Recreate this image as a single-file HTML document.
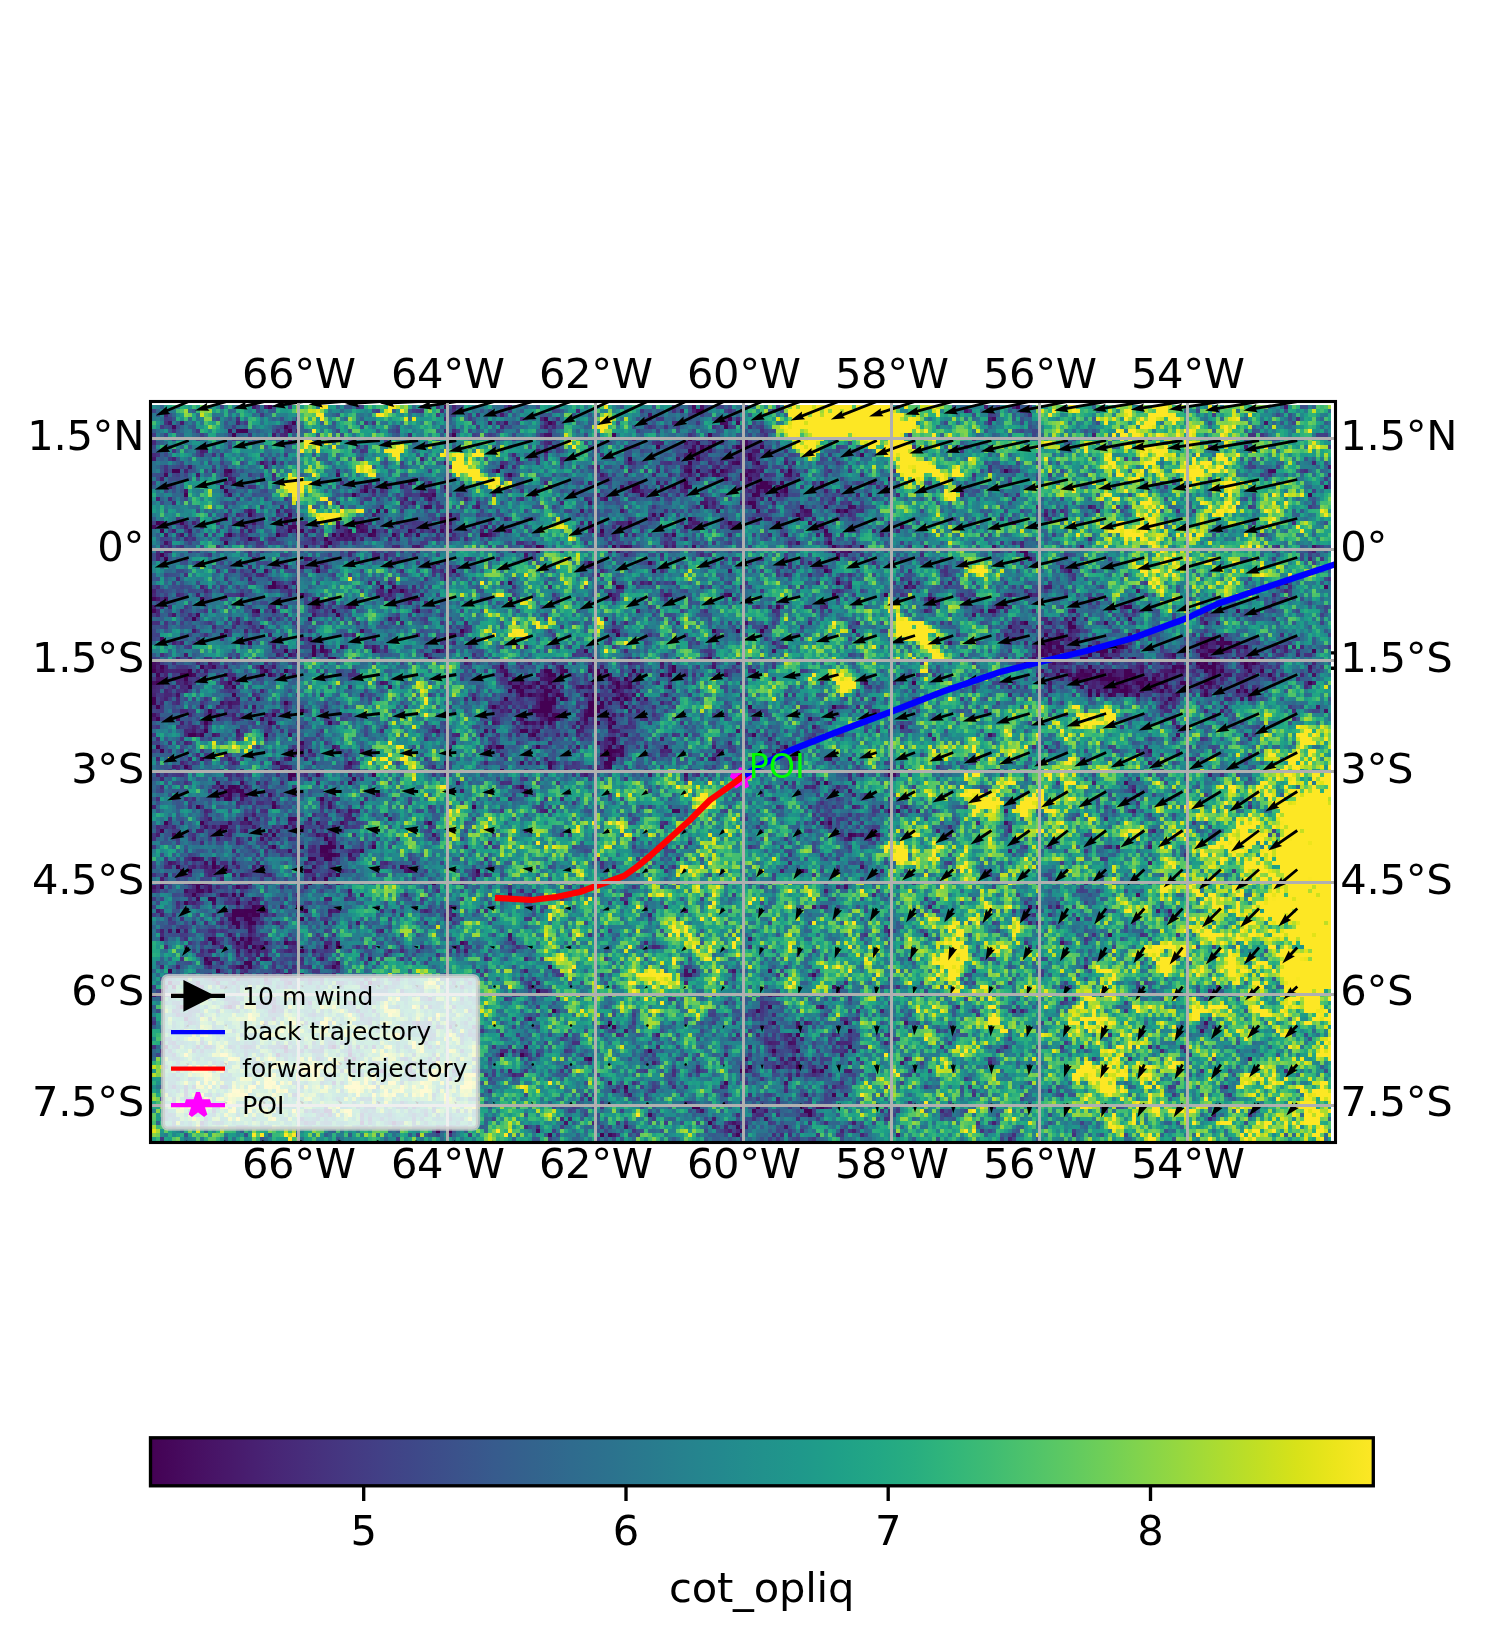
<!DOCTYPE html>
<html><head><meta charset="utf-8"><title>cot_opliq trajectory map</title>
<style>html,body{margin:0;padding:0;background:#fff}body{width:1500px;height:1650px;overflow:hidden}svg{display:block}text{font-family:"DejaVu Sans", "Liberation Sans", sans-serif;fill:#000}.sc{mix-blend-mode:screen}</style></head><body>
<svg width="1500" height="1650" viewBox="0 0 1500 1650">
<defs>
<filter id="fld" filterUnits="userSpaceOnUse" x="104" y="357" width="1278" height="835.5" color-interpolation-filters="sRGB">
<feColorMatrix in="SourceGraphic" type="matrix" values="1 0 0 0 0  1 0 0 0 0  1 0 0 0 0  0 0 0 0 1" result="cR"/>
<feGaussianBlur in="cR" stdDeviation="11" result="base0"/>
<feColorMatrix in="SourceGraphic" type="matrix" values="0 1 0 0 0  0 1 0 0 0  0 1 0 0 0  0 0 0 0 1" result="cG"/>
<feGaussianBlur in="cG" stdDeviation="1.7" result="fb"/>
<feColorMatrix in="SourceGraphic" type="matrix" values="0 0 1 0 0  0 0 1 0 0  0 0 1 0 0  0 0 0 0 1" result="cB"/>
<feGaussianBlur in="cB" stdDeviation="6" result="fd"/>
<feComposite in="base0" in2="fd" operator="arithmetic" k1="0" k2="1" k3="-0.2" k4="0" result="base"/>
<feTurbulence type="fractalNoise" baseFrequency="0.33" numOctaves="1" seed="7" result="n1"/>
<feTurbulence type="fractalNoise" baseFrequency="0.05" numOctaves="2" seed="21" result="n2"/>
<feColorMatrix in="n1" type="matrix" values="1.3 0 0 0 -0.15000000000000002  1.3 0 0 0 -0.15000000000000002  1.3 0 0 0 -0.15000000000000002  0 0 0 0 1" result="g1"/>
<feColorMatrix in="n2" type="matrix" values="0 1.0 0 0 0.0  0 1.0 0 0 0.0  0 1.0 0 0 0.0  0 0 0 0 1" result="g2"/>
<feComposite in="g1" in2="g2" operator="arithmetic" k1="0" k2="1" k3="1" k4="-0.5" result="nn"/>
<feComposite in="base" in2="nn" operator="arithmetic" k1="0.85" k2="0.575" k3="0.6" k4="-0.3" result="sum0"/>
<feDisplacementMap in="fb" in2="n2" scale="48" xChannelSelector="R" yChannelSelector="B" result="fbd"/>
<feComposite in="sum0" in2="fbd" operator="arithmetic" k1="0" k2="1" k3="0.6" k4="0" result="sum"/>
<feFlood x="105" y="358" width="1" height="1" flood-color="#000" result="fl"/>
<feComposite in="fl" in2="fl" operator="over" x="104" y="357" width="4" height="4" result="cell"/>
<feTile in="cell" result="tiles"/>
<feComposite in="sum" in2="tiles" operator="in" result="samp"/>
<feMorphology in="samp" operator="dilate" radius="1" result="b3"/>
<feOffset in="b3" dx="1" dy="0" result="bx"/>
<feMerge result="m1"><feMergeNode in="bx"/><feMergeNode in="b3"/></feMerge>
<feOffset in="m1" dx="0" dy="1" result="by"/>
<feMerge result="pix"><feMergeNode in="by"/><feMergeNode in="m1"/></feMerge>
<feComponentTransfer in="pix"><feFuncR type="table" tableValues="0.267 0.273 0.277 0.280 0.282 0.283 0.283 0.281 0.279 0.275 0.271 0.265 0.259 0.252 0.245 0.237 0.228 0.220 0.212 0.205 0.198 0.191 0.184 0.177 0.171 0.165 0.159 0.153 0.148 0.142 0.136 0.131 0.125 0.122 0.120 0.120 0.122 0.128 0.137 0.150 0.166 0.186 0.208 0.233 0.260 0.289 0.320 0.352 0.395 0.431 0.468 0.506 0.546 0.586 0.627 0.668 0.710 0.752 0.794 0.835 0.876 0.916 0.955 0.993"/><feFuncG type="table" tableValues="0.005 0.026 0.050 0.073 0.095 0.116 0.136 0.156 0.175 0.195 0.214 0.233 0.252 0.270 0.288 0.305 0.327 0.343 0.360 0.376 0.392 0.407 0.422 0.438 0.453 0.467 0.482 0.497 0.512 0.526 0.541 0.556 0.574 0.589 0.604 0.618 0.633 0.648 0.662 0.677 0.691 0.705 0.719 0.732 0.745 0.758 0.771 0.783 0.797 0.808 0.819 0.829 0.838 0.847 0.855 0.862 0.869 0.875 0.881 0.886 0.891 0.896 0.901 0.906"/><feFuncB type="table" tableValues="0.329 0.353 0.376 0.397 0.417 0.436 0.453 0.469 0.483 0.496 0.507 0.517 0.525 0.532 0.537 0.542 0.547 0.549 0.552 0.554 0.555 0.556 0.557 0.558 0.558 0.558 0.558 0.558 0.557 0.556 0.554 0.552 0.549 0.546 0.541 0.536 0.530 0.523 0.516 0.507 0.497 0.485 0.473 0.459 0.444 0.428 0.411 0.393 0.368 0.346 0.324 0.300 0.276 0.250 0.223 0.196 0.169 0.143 0.120 0.103 0.095 0.101 0.118 0.144"/></feComponentTransfer>
</filter>
<clipPath id="cr"><rect x="152" y="405" width="1179" height="736.5"/></clipPath>
<clipPath id="ca"><rect x="150.5" y="401.5" width="1185" height="741"/></clipPath>
<linearGradient id="vg" x1="0" x2="1" y1="0" y2="0"><stop offset="0.0000" stop-color="rgb(68,1,84)"/><stop offset="0.0312" stop-color="rgb(71,13,96)"/><stop offset="0.0625" stop-color="rgb(72,24,106)"/><stop offset="0.0938" stop-color="rgb(72,35,116)"/><stop offset="0.1250" stop-color="rgb(71,45,123)"/><stop offset="0.1562" stop-color="rgb(69,55,129)"/><stop offset="0.1875" stop-color="rgb(66,64,134)"/><stop offset="0.2188" stop-color="rgb(62,73,137)"/><stop offset="0.2500" stop-color="rgb(59,82,139)"/><stop offset="0.2812" stop-color="rgb(55,91,141)"/><stop offset="0.3125" stop-color="rgb(51,99,141)"/><stop offset="0.3438" stop-color="rgb(47,107,142)"/><stop offset="0.3750" stop-color="rgb(44,114,142)"/><stop offset="0.4062" stop-color="rgb(41,122,142)"/><stop offset="0.4375" stop-color="rgb(38,130,142)"/><stop offset="0.4688" stop-color="rgb(35,137,142)"/><stop offset="0.5000" stop-color="rgb(33,145,140)"/><stop offset="0.5312" stop-color="rgb(31,152,139)"/><stop offset="0.5625" stop-color="rgb(31,160,136)"/><stop offset="0.5938" stop-color="rgb(34,167,133)"/><stop offset="0.6250" stop-color="rgb(40,174,128)"/><stop offset="0.6562" stop-color="rgb(50,182,122)"/><stop offset="0.6875" stop-color="rgb(63,188,115)"/><stop offset="0.7188" stop-color="rgb(78,195,107)"/><stop offset="0.7500" stop-color="rgb(94,201,98)"/><stop offset="0.7812" stop-color="rgb(112,207,87)"/><stop offset="0.8125" stop-color="rgb(132,212,75)"/><stop offset="0.8438" stop-color="rgb(152,216,62)"/><stop offset="0.8750" stop-color="rgb(173,220,48)"/><stop offset="0.9062" stop-color="rgb(194,223,35)"/><stop offset="0.9375" stop-color="rgb(216,226,25)"/><stop offset="0.9688" stop-color="rgb(236,229,27)"/><stop offset="1.0000" stop-color="rgb(253,231,37)"/></linearGradient>
</defs>
<rect width="1500" height="1650" fill="#fff"/>
<g clip-path="url(#cr)"><g filter="url(#fld)">
<rect x="102.28" y="352.79" width="86.03" height="86.03" fill="rgb(113,0,0)"/>
<rect x="187.31" y="352.79" width="38.03" height="86.03" fill="rgb(113,0,0)"/>
<rect x="224.34" y="352.79" width="38.03" height="86.03" fill="rgb(113,0,0)"/>
<rect x="261.37" y="352.79" width="38.03" height="86.03" fill="rgb(113,0,0)"/>
<rect x="298.4" y="352.79" width="38.03" height="86.03" fill="rgb(147,0,0)"/>
<rect x="335.43" y="352.79" width="38.03" height="86.03" fill="rgb(113,0,0)"/>
<rect x="372.46" y="352.79" width="38.03" height="86.03" fill="rgb(147,0,0)"/>
<rect x="409.49" y="352.79" width="38.03" height="86.03" fill="rgb(113,0,0)"/>
<rect x="446.52" y="352.79" width="38.03" height="86.03" fill="rgb(113,0,0)"/>
<rect x="483.55" y="352.79" width="38.03" height="86.03" fill="rgb(80,0,0)"/>
<rect x="520.58" y="352.79" width="38.03" height="86.03" fill="rgb(80,0,0)"/>
<rect x="557.61" y="352.79" width="38.03" height="86.03" fill="rgb(113,0,0)"/>
<rect x="594.64" y="352.79" width="38.03" height="86.03" fill="rgb(147,0,0)"/>
<rect x="631.67" y="352.79" width="38.03" height="86.03" fill="rgb(80,0,0)"/>
<rect x="668.7" y="352.79" width="38.03" height="86.03" fill="rgb(80,0,0)"/>
<rect x="705.73" y="352.79" width="38.03" height="86.03" fill="rgb(80,0,0)"/>
<rect x="742.76" y="352.79" width="38.03" height="86.03" fill="rgb(113,0,0)"/>
<rect x="779.79" y="352.79" width="38.03" height="86.03" fill="rgb(233,0,0)"/>
<rect x="816.82" y="352.79" width="38.03" height="86.03" fill="rgb(233,0,0)"/>
<rect x="853.85" y="352.79" width="38.03" height="86.03" fill="rgb(255,0,0)"/>
<rect x="890.88" y="352.79" width="38.03" height="86.03" fill="rgb(180,0,0)"/>
<rect x="927.91" y="352.79" width="38.03" height="86.03" fill="rgb(147,0,0)"/>
<rect x="964.94" y="352.79" width="38.03" height="86.03" fill="rgb(113,0,0)"/>
<rect x="1001.97" y="352.79" width="38.03" height="86.03" fill="rgb(113,0,0)"/>
<rect x="1039" y="352.79" width="38.03" height="86.03" fill="rgb(163,0,0)"/>
<rect x="1076.03" y="352.79" width="38.03" height="86.03" fill="rgb(163,0,0)"/>
<rect x="1113.06" y="352.79" width="38.03" height="86.03" fill="rgb(196,0,0)"/>
<rect x="1150.09" y="352.79" width="38.03" height="86.03" fill="rgb(196,0,0)"/>
<rect x="1187.12" y="352.79" width="38.03" height="86.03" fill="rgb(163,0,0)"/>
<rect x="1224.15" y="352.79" width="38.03" height="86.03" fill="rgb(163,0,0)"/>
<rect x="1261.18" y="352.79" width="38.03" height="86.03" fill="rgb(130,0,0)"/>
<rect x="1298.21" y="352.79" width="86.03" height="86.03" fill="rgb(130,0,0)"/>
<rect x="102.28" y="437.82" width="86.03" height="38.03" fill="rgb(80,0,0)"/>
<rect x="187.31" y="437.82" width="38.03" height="38.03" fill="rgb(80,0,0)"/>
<rect x="224.34" y="437.82" width="38.03" height="38.03" fill="rgb(113,0,0)"/>
<rect x="261.37" y="437.82" width="38.03" height="38.03" fill="rgb(80,0,0)"/>
<rect x="298.4" y="437.82" width="38.03" height="38.03" fill="rgb(147,0,0)"/>
<rect x="335.43" y="437.82" width="38.03" height="38.03" fill="rgb(113,0,0)"/>
<rect x="372.46" y="437.82" width="38.03" height="38.03" fill="rgb(147,0,0)"/>
<rect x="409.49" y="437.82" width="38.03" height="38.03" fill="rgb(113,0,0)"/>
<rect x="446.52" y="437.82" width="38.03" height="38.03" fill="rgb(180,0,0)"/>
<rect x="483.55" y="437.82" width="38.03" height="38.03" fill="rgb(113,0,0)"/>
<rect x="520.58" y="437.82" width="38.03" height="38.03" fill="rgb(80,0,0)"/>
<rect x="557.61" y="437.82" width="38.03" height="38.03" fill="rgb(113,0,0)"/>
<rect x="594.64" y="437.82" width="38.03" height="38.03" fill="rgb(80,0,0)"/>
<rect x="631.67" y="437.82" width="38.03" height="38.03" fill="rgb(80,0,0)"/>
<rect x="668.7" y="437.82" width="38.03" height="38.03" fill="rgb(47,0,0)"/>
<rect x="705.73" y="437.82" width="38.03" height="38.03" fill="rgb(47,0,0)"/>
<rect x="742.76" y="437.82" width="38.03" height="38.03" fill="rgb(47,0,0)"/>
<rect x="779.79" y="437.82" width="38.03" height="38.03" fill="rgb(113,0,0)"/>
<rect x="816.82" y="437.82" width="38.03" height="38.03" fill="rgb(80,0,0)"/>
<rect x="853.85" y="437.82" width="38.03" height="38.03" fill="rgb(113,0,0)"/>
<rect x="890.88" y="437.82" width="38.03" height="38.03" fill="rgb(213,0,0)"/>
<rect x="927.91" y="437.82" width="38.03" height="38.03" fill="rgb(147,0,0)"/>
<rect x="964.94" y="437.82" width="38.03" height="38.03" fill="rgb(147,0,0)"/>
<rect x="1001.97" y="437.82" width="38.03" height="38.03" fill="rgb(147,0,0)"/>
<rect x="1039" y="437.82" width="38.03" height="38.03" fill="rgb(163,0,0)"/>
<rect x="1076.03" y="437.82" width="38.03" height="38.03" fill="rgb(163,0,0)"/>
<rect x="1113.06" y="437.82" width="38.03" height="38.03" fill="rgb(196,0,0)"/>
<rect x="1150.09" y="437.82" width="38.03" height="38.03" fill="rgb(196,0,0)"/>
<rect x="1187.12" y="437.82" width="38.03" height="38.03" fill="rgb(196,0,0)"/>
<rect x="1224.15" y="437.82" width="38.03" height="38.03" fill="rgb(163,0,0)"/>
<rect x="1261.18" y="437.82" width="38.03" height="38.03" fill="rgb(130,0,0)"/>
<rect x="1298.21" y="437.82" width="86.03" height="38.03" fill="rgb(130,0,0)"/>
<rect x="102.28" y="474.85" width="86.03" height="38.03" fill="rgb(80,0,0)"/>
<rect x="187.31" y="474.85" width="38.03" height="38.03" fill="rgb(113,0,0)"/>
<rect x="224.34" y="474.85" width="38.03" height="38.03" fill="rgb(80,0,0)"/>
<rect x="261.37" y="474.85" width="38.03" height="38.03" fill="rgb(147,0,0)"/>
<rect x="298.4" y="474.85" width="38.03" height="38.03" fill="rgb(147,0,0)"/>
<rect x="335.43" y="474.85" width="38.03" height="38.03" fill="rgb(80,0,0)"/>
<rect x="372.46" y="474.85" width="38.03" height="38.03" fill="rgb(80,0,0)"/>
<rect x="409.49" y="474.85" width="38.03" height="38.03" fill="rgb(80,0,0)"/>
<rect x="446.52" y="474.85" width="38.03" height="38.03" fill="rgb(113,0,0)"/>
<rect x="483.55" y="474.85" width="38.03" height="38.03" fill="rgb(80,0,0)"/>
<rect x="520.58" y="474.85" width="38.03" height="38.03" fill="rgb(113,0,0)"/>
<rect x="557.61" y="474.85" width="38.03" height="38.03" fill="rgb(80,0,0)"/>
<rect x="594.64" y="474.85" width="38.03" height="38.03" fill="rgb(80,0,0)"/>
<rect x="631.67" y="474.85" width="38.03" height="38.03" fill="rgb(80,0,0)"/>
<rect x="668.7" y="474.85" width="38.03" height="38.03" fill="rgb(80,0,0)"/>
<rect x="705.73" y="474.85" width="38.03" height="38.03" fill="rgb(80,0,0)"/>
<rect x="742.76" y="474.85" width="38.03" height="38.03" fill="rgb(47,0,0)"/>
<rect x="779.79" y="474.85" width="38.03" height="38.03" fill="rgb(80,0,0)"/>
<rect x="816.82" y="474.85" width="38.03" height="38.03" fill="rgb(80,0,0)"/>
<rect x="853.85" y="474.85" width="38.03" height="38.03" fill="rgb(80,0,0)"/>
<rect x="890.88" y="474.85" width="38.03" height="38.03" fill="rgb(147,0,0)"/>
<rect x="927.91" y="474.85" width="38.03" height="38.03" fill="rgb(147,0,0)"/>
<rect x="964.94" y="474.85" width="38.03" height="38.03" fill="rgb(113,0,0)"/>
<rect x="1001.97" y="474.85" width="38.03" height="38.03" fill="rgb(113,0,0)"/>
<rect x="1039" y="474.85" width="38.03" height="38.03" fill="rgb(130,0,0)"/>
<rect x="1076.03" y="474.85" width="38.03" height="38.03" fill="rgb(163,0,0)"/>
<rect x="1113.06" y="474.85" width="38.03" height="38.03" fill="rgb(196,0,0)"/>
<rect x="1150.09" y="474.85" width="38.03" height="38.03" fill="rgb(163,0,0)"/>
<rect x="1187.12" y="474.85" width="38.03" height="38.03" fill="rgb(196,0,0)"/>
<rect x="1224.15" y="474.85" width="38.03" height="38.03" fill="rgb(163,0,0)"/>
<rect x="1261.18" y="474.85" width="38.03" height="38.03" fill="rgb(163,0,0)"/>
<rect x="1298.21" y="474.85" width="86.03" height="38.03" fill="rgb(130,0,0)"/>
<rect x="102.28" y="511.88" width="86.03" height="38.03" fill="rgb(80,0,0)"/>
<rect x="187.31" y="511.88" width="38.03" height="38.03" fill="rgb(80,0,0)"/>
<rect x="224.34" y="511.88" width="38.03" height="38.03" fill="rgb(80,0,0)"/>
<rect x="261.37" y="511.88" width="38.03" height="38.03" fill="rgb(47,0,0)"/>
<rect x="298.4" y="511.88" width="38.03" height="38.03" fill="rgb(80,0,0)"/>
<rect x="335.43" y="511.88" width="38.03" height="38.03" fill="rgb(47,0,0)"/>
<rect x="372.46" y="511.88" width="38.03" height="38.03" fill="rgb(80,0,0)"/>
<rect x="409.49" y="511.88" width="38.03" height="38.03" fill="rgb(47,0,0)"/>
<rect x="446.52" y="511.88" width="38.03" height="38.03" fill="rgb(80,0,0)"/>
<rect x="483.55" y="511.88" width="38.03" height="38.03" fill="rgb(80,0,0)"/>
<rect x="520.58" y="511.88" width="38.03" height="38.03" fill="rgb(113,0,0)"/>
<rect x="557.61" y="511.88" width="38.03" height="38.03" fill="rgb(113,0,0)"/>
<rect x="594.64" y="511.88" width="38.03" height="38.03" fill="rgb(80,0,0)"/>
<rect x="631.67" y="511.88" width="38.03" height="38.03" fill="rgb(80,0,0)"/>
<rect x="668.7" y="511.88" width="38.03" height="38.03" fill="rgb(80,0,0)"/>
<rect x="705.73" y="511.88" width="38.03" height="38.03" fill="rgb(80,0,0)"/>
<rect x="742.76" y="511.88" width="38.03" height="38.03" fill="rgb(80,0,0)"/>
<rect x="779.79" y="511.88" width="38.03" height="38.03" fill="rgb(80,0,0)"/>
<rect x="816.82" y="511.88" width="38.03" height="38.03" fill="rgb(80,0,0)"/>
<rect x="853.85" y="511.88" width="38.03" height="38.03" fill="rgb(113,0,0)"/>
<rect x="890.88" y="511.88" width="38.03" height="38.03" fill="rgb(113,0,0)"/>
<rect x="927.91" y="511.88" width="38.03" height="38.03" fill="rgb(147,0,0)"/>
<rect x="964.94" y="511.88" width="38.03" height="38.03" fill="rgb(113,0,0)"/>
<rect x="1001.97" y="511.88" width="38.03" height="38.03" fill="rgb(113,0,0)"/>
<rect x="1039" y="511.88" width="38.03" height="38.03" fill="rgb(130,0,0)"/>
<rect x="1076.03" y="511.88" width="38.03" height="38.03" fill="rgb(163,0,0)"/>
<rect x="1113.06" y="511.88" width="38.03" height="38.03" fill="rgb(196,0,0)"/>
<rect x="1150.09" y="511.88" width="38.03" height="38.03" fill="rgb(163,0,0)"/>
<rect x="1187.12" y="511.88" width="38.03" height="38.03" fill="rgb(163,0,0)"/>
<rect x="1224.15" y="511.88" width="38.03" height="38.03" fill="rgb(163,0,0)"/>
<rect x="1261.18" y="511.88" width="38.03" height="38.03" fill="rgb(163,0,0)"/>
<rect x="1298.21" y="511.88" width="86.03" height="38.03" fill="rgb(130,0,0)"/>
<rect x="102.28" y="548.91" width="86.03" height="38.03" fill="rgb(80,0,0)"/>
<rect x="187.31" y="548.91" width="38.03" height="38.03" fill="rgb(113,0,0)"/>
<rect x="224.34" y="548.91" width="38.03" height="38.03" fill="rgb(80,0,0)"/>
<rect x="261.37" y="548.91" width="38.03" height="38.03" fill="rgb(80,0,0)"/>
<rect x="298.4" y="548.91" width="38.03" height="38.03" fill="rgb(80,0,0)"/>
<rect x="335.43" y="548.91" width="38.03" height="38.03" fill="rgb(113,0,0)"/>
<rect x="372.46" y="548.91" width="38.03" height="38.03" fill="rgb(80,0,0)"/>
<rect x="409.49" y="548.91" width="38.03" height="38.03" fill="rgb(80,0,0)"/>
<rect x="446.52" y="548.91" width="38.03" height="38.03" fill="rgb(113,0,0)"/>
<rect x="483.55" y="548.91" width="38.03" height="38.03" fill="rgb(113,0,0)"/>
<rect x="520.58" y="548.91" width="38.03" height="38.03" fill="rgb(147,0,0)"/>
<rect x="557.61" y="548.91" width="38.03" height="38.03" fill="rgb(147,0,0)"/>
<rect x="594.64" y="548.91" width="38.03" height="38.03" fill="rgb(80,0,0)"/>
<rect x="631.67" y="548.91" width="38.03" height="38.03" fill="rgb(113,0,0)"/>
<rect x="668.7" y="548.91" width="38.03" height="38.03" fill="rgb(113,0,0)"/>
<rect x="705.73" y="548.91" width="38.03" height="38.03" fill="rgb(113,0,0)"/>
<rect x="742.76" y="548.91" width="38.03" height="38.03" fill="rgb(113,0,0)"/>
<rect x="779.79" y="548.91" width="38.03" height="38.03" fill="rgb(113,0,0)"/>
<rect x="816.82" y="548.91" width="38.03" height="38.03" fill="rgb(80,0,0)"/>
<rect x="853.85" y="548.91" width="38.03" height="38.03" fill="rgb(113,0,0)"/>
<rect x="890.88" y="548.91" width="38.03" height="38.03" fill="rgb(80,0,0)"/>
<rect x="927.91" y="548.91" width="38.03" height="38.03" fill="rgb(113,0,0)"/>
<rect x="964.94" y="548.91" width="38.03" height="38.03" fill="rgb(147,0,0)"/>
<rect x="1001.97" y="548.91" width="38.03" height="38.03" fill="rgb(113,0,0)"/>
<rect x="1039" y="548.91" width="38.03" height="38.03" fill="rgb(97,0,0)"/>
<rect x="1076.03" y="548.91" width="38.03" height="38.03" fill="rgb(130,0,0)"/>
<rect x="1113.06" y="548.91" width="38.03" height="38.03" fill="rgb(163,0,0)"/>
<rect x="1150.09" y="548.91" width="38.03" height="38.03" fill="rgb(196,0,0)"/>
<rect x="1187.12" y="548.91" width="38.03" height="38.03" fill="rgb(163,0,0)"/>
<rect x="1224.15" y="548.91" width="38.03" height="38.03" fill="rgb(163,0,0)"/>
<rect x="1261.18" y="548.91" width="38.03" height="38.03" fill="rgb(130,0,0)"/>
<rect x="1298.21" y="548.91" width="86.03" height="38.03" fill="rgb(130,0,0)"/>
<rect x="102.28" y="585.94" width="86.03" height="38.03" fill="rgb(80,0,0)"/>
<rect x="187.31" y="585.94" width="38.03" height="38.03" fill="rgb(80,0,0)"/>
<rect x="224.34" y="585.94" width="38.03" height="38.03" fill="rgb(80,0,0)"/>
<rect x="261.37" y="585.94" width="38.03" height="38.03" fill="rgb(80,0,0)"/>
<rect x="298.4" y="585.94" width="38.03" height="38.03" fill="rgb(80,0,0)"/>
<rect x="335.43" y="585.94" width="38.03" height="38.03" fill="rgb(113,0,0)"/>
<rect x="372.46" y="585.94" width="38.03" height="38.03" fill="rgb(80,0,0)"/>
<rect x="409.49" y="585.94" width="38.03" height="38.03" fill="rgb(80,0,0)"/>
<rect x="446.52" y="585.94" width="38.03" height="38.03" fill="rgb(113,0,0)"/>
<rect x="483.55" y="585.94" width="38.03" height="38.03" fill="rgb(147,0,0)"/>
<rect x="520.58" y="585.94" width="38.03" height="38.03" fill="rgb(113,0,0)"/>
<rect x="557.61" y="585.94" width="38.03" height="38.03" fill="rgb(113,0,0)"/>
<rect x="594.64" y="585.94" width="38.03" height="38.03" fill="rgb(113,0,0)"/>
<rect x="631.67" y="585.94" width="38.03" height="38.03" fill="rgb(113,0,0)"/>
<rect x="668.7" y="585.94" width="38.03" height="38.03" fill="rgb(113,0,0)"/>
<rect x="705.73" y="585.94" width="38.03" height="38.03" fill="rgb(113,0,0)"/>
<rect x="742.76" y="585.94" width="38.03" height="38.03" fill="rgb(113,0,0)"/>
<rect x="779.79" y="585.94" width="38.03" height="38.03" fill="rgb(147,0,0)"/>
<rect x="816.82" y="585.94" width="38.03" height="38.03" fill="rgb(113,0,0)"/>
<rect x="853.85" y="585.94" width="38.03" height="38.03" fill="rgb(113,0,0)"/>
<rect x="890.88" y="585.94" width="38.03" height="38.03" fill="rgb(113,0,0)"/>
<rect x="927.91" y="585.94" width="38.03" height="38.03" fill="rgb(113,0,0)"/>
<rect x="964.94" y="585.94" width="38.03" height="38.03" fill="rgb(113,0,0)"/>
<rect x="1001.97" y="585.94" width="38.03" height="38.03" fill="rgb(80,0,0)"/>
<rect x="1039" y="585.94" width="38.03" height="38.03" fill="rgb(80,0,0)"/>
<rect x="1076.03" y="585.94" width="38.03" height="38.03" fill="rgb(80,0,0)"/>
<rect x="1113.06" y="585.94" width="38.03" height="38.03" fill="rgb(113,0,0)"/>
<rect x="1150.09" y="585.94" width="38.03" height="38.03" fill="rgb(147,0,0)"/>
<rect x="1187.12" y="585.94" width="38.03" height="38.03" fill="rgb(147,0,0)"/>
<rect x="1224.15" y="585.94" width="38.03" height="38.03" fill="rgb(113,0,0)"/>
<rect x="1261.18" y="585.94" width="38.03" height="38.03" fill="rgb(113,0,0)"/>
<rect x="1298.21" y="585.94" width="86.03" height="38.03" fill="rgb(113,0,0)"/>
<rect x="102.28" y="622.97" width="86.03" height="38.03" fill="rgb(80,0,0)"/>
<rect x="187.31" y="622.97" width="38.03" height="38.03" fill="rgb(80,0,0)"/>
<rect x="224.34" y="622.97" width="38.03" height="38.03" fill="rgb(113,0,0)"/>
<rect x="261.37" y="622.97" width="38.03" height="38.03" fill="rgb(80,0,0)"/>
<rect x="298.4" y="622.97" width="38.03" height="38.03" fill="rgb(80,0,0)"/>
<rect x="335.43" y="622.97" width="38.03" height="38.03" fill="rgb(113,0,0)"/>
<rect x="372.46" y="622.97" width="38.03" height="38.03" fill="rgb(113,0,0)"/>
<rect x="409.49" y="622.97" width="38.03" height="38.03" fill="rgb(80,0,0)"/>
<rect x="446.52" y="622.97" width="38.03" height="38.03" fill="rgb(113,0,0)"/>
<rect x="483.55" y="622.97" width="38.03" height="38.03" fill="rgb(147,0,0)"/>
<rect x="520.58" y="622.97" width="38.03" height="38.03" fill="rgb(147,0,0)"/>
<rect x="557.61" y="622.97" width="38.03" height="38.03" fill="rgb(113,0,0)"/>
<rect x="594.64" y="622.97" width="38.03" height="38.03" fill="rgb(113,0,0)"/>
<rect x="631.67" y="622.97" width="38.03" height="38.03" fill="rgb(113,0,0)"/>
<rect x="668.7" y="622.97" width="38.03" height="38.03" fill="rgb(113,0,0)"/>
<rect x="705.73" y="622.97" width="38.03" height="38.03" fill="rgb(113,0,0)"/>
<rect x="742.76" y="622.97" width="38.03" height="38.03" fill="rgb(113,0,0)"/>
<rect x="779.79" y="622.97" width="38.03" height="38.03" fill="rgb(113,0,0)"/>
<rect x="816.82" y="622.97" width="38.03" height="38.03" fill="rgb(147,0,0)"/>
<rect x="853.85" y="622.97" width="38.03" height="38.03" fill="rgb(147,0,0)"/>
<rect x="890.88" y="622.97" width="38.03" height="38.03" fill="rgb(180,0,0)"/>
<rect x="927.91" y="622.97" width="38.03" height="38.03" fill="rgb(147,0,0)"/>
<rect x="964.94" y="622.97" width="38.03" height="38.03" fill="rgb(113,0,0)"/>
<rect x="1001.97" y="622.97" width="38.03" height="38.03" fill="rgb(80,0,0)"/>
<rect x="1039" y="622.97" width="38.03" height="38.03" fill="rgb(47,0,0)"/>
<rect x="1076.03" y="622.97" width="38.03" height="38.03" fill="rgb(80,0,0)"/>
<rect x="1113.06" y="622.97" width="38.03" height="38.03" fill="rgb(80,0,0)"/>
<rect x="1150.09" y="622.97" width="38.03" height="38.03" fill="rgb(80,0,0)"/>
<rect x="1187.12" y="622.97" width="38.03" height="38.03" fill="rgb(47,0,0)"/>
<rect x="1224.15" y="622.97" width="38.03" height="38.03" fill="rgb(80,0,0)"/>
<rect x="1261.18" y="622.97" width="38.03" height="38.03" fill="rgb(80,0,0)"/>
<rect x="1298.21" y="622.97" width="86.03" height="38.03" fill="rgb(113,0,0)"/>
<rect x="102.28" y="660" width="86.03" height="38.03" fill="rgb(47,0,0)"/>
<rect x="187.31" y="660" width="38.03" height="38.03" fill="rgb(80,0,0)"/>
<rect x="224.34" y="660" width="38.03" height="38.03" fill="rgb(80,0,0)"/>
<rect x="261.37" y="660" width="38.03" height="38.03" fill="rgb(80,0,0)"/>
<rect x="298.4" y="660" width="38.03" height="38.03" fill="rgb(113,0,0)"/>
<rect x="335.43" y="660" width="38.03" height="38.03" fill="rgb(113,0,0)"/>
<rect x="372.46" y="660" width="38.03" height="38.03" fill="rgb(113,0,0)"/>
<rect x="409.49" y="660" width="38.03" height="38.03" fill="rgb(147,0,0)"/>
<rect x="446.52" y="660" width="38.03" height="38.03" fill="rgb(113,0,0)"/>
<rect x="483.55" y="660" width="38.03" height="38.03" fill="rgb(57,0,0)"/>
<rect x="520.58" y="660" width="38.03" height="38.03" fill="rgb(41,0,0)"/>
<rect x="557.61" y="660" width="38.03" height="38.03" fill="rgb(80,0,0)"/>
<rect x="594.64" y="660" width="38.03" height="38.03" fill="rgb(47,0,0)"/>
<rect x="631.67" y="660" width="38.03" height="38.03" fill="rgb(80,0,0)"/>
<rect x="668.7" y="660" width="38.03" height="38.03" fill="rgb(113,0,0)"/>
<rect x="705.73" y="660" width="38.03" height="38.03" fill="rgb(113,0,0)"/>
<rect x="742.76" y="660" width="38.03" height="38.03" fill="rgb(147,0,0)"/>
<rect x="779.79" y="660" width="38.03" height="38.03" fill="rgb(147,0,0)"/>
<rect x="816.82" y="660" width="38.03" height="38.03" fill="rgb(147,0,0)"/>
<rect x="853.85" y="660" width="38.03" height="38.03" fill="rgb(113,0,0)"/>
<rect x="890.88" y="660" width="38.03" height="38.03" fill="rgb(113,0,0)"/>
<rect x="927.91" y="660" width="38.03" height="38.03" fill="rgb(147,0,0)"/>
<rect x="964.94" y="660" width="38.03" height="38.03" fill="rgb(113,0,0)"/>
<rect x="1001.97" y="660" width="38.03" height="38.03" fill="rgb(113,0,0)"/>
<rect x="1039" y="660" width="38.03" height="38.03" fill="rgb(47,0,0)"/>
<rect x="1076.03" y="660" width="38.03" height="38.03" fill="rgb(31,0,0)"/>
<rect x="1113.06" y="660" width="38.03" height="38.03" fill="rgb(31,0,0)"/>
<rect x="1150.09" y="660" width="38.03" height="38.03" fill="rgb(31,0,0)"/>
<rect x="1187.12" y="660" width="38.03" height="38.03" fill="rgb(47,0,0)"/>
<rect x="1224.15" y="660" width="38.03" height="38.03" fill="rgb(47,0,0)"/>
<rect x="1261.18" y="660" width="38.03" height="38.03" fill="rgb(80,0,0)"/>
<rect x="1298.21" y="660" width="86.03" height="38.03" fill="rgb(113,0,0)"/>
<rect x="102.28" y="697.03" width="86.03" height="38.03" fill="rgb(47,0,0)"/>
<rect x="187.31" y="697.03" width="38.03" height="38.03" fill="rgb(80,0,0)"/>
<rect x="224.34" y="697.03" width="38.03" height="38.03" fill="rgb(47,0,0)"/>
<rect x="261.37" y="697.03" width="38.03" height="38.03" fill="rgb(80,0,0)"/>
<rect x="298.4" y="697.03" width="38.03" height="38.03" fill="rgb(80,0,0)"/>
<rect x="335.43" y="697.03" width="38.03" height="38.03" fill="rgb(113,0,0)"/>
<rect x="372.46" y="697.03" width="38.03" height="38.03" fill="rgb(147,0,0)"/>
<rect x="409.49" y="697.03" width="38.03" height="38.03" fill="rgb(113,0,0)"/>
<rect x="446.52" y="697.03" width="38.03" height="38.03" fill="rgb(113,0,0)"/>
<rect x="483.55" y="697.03" width="38.03" height="38.03" fill="rgb(57,0,0)"/>
<rect x="520.58" y="697.03" width="38.03" height="38.03" fill="rgb(41,0,0)"/>
<rect x="557.61" y="697.03" width="38.03" height="38.03" fill="rgb(47,0,0)"/>
<rect x="594.64" y="697.03" width="38.03" height="38.03" fill="rgb(47,0,0)"/>
<rect x="631.67" y="697.03" width="38.03" height="38.03" fill="rgb(80,0,0)"/>
<rect x="668.7" y="697.03" width="38.03" height="38.03" fill="rgb(113,0,0)"/>
<rect x="705.73" y="697.03" width="38.03" height="38.03" fill="rgb(113,0,0)"/>
<rect x="742.76" y="697.03" width="38.03" height="38.03" fill="rgb(113,0,0)"/>
<rect x="779.79" y="697.03" width="38.03" height="38.03" fill="rgb(113,0,0)"/>
<rect x="816.82" y="697.03" width="38.03" height="38.03" fill="rgb(113,0,0)"/>
<rect x="853.85" y="697.03" width="38.03" height="38.03" fill="rgb(113,0,0)"/>
<rect x="890.88" y="697.03" width="38.03" height="38.03" fill="rgb(113,0,0)"/>
<rect x="927.91" y="697.03" width="38.03" height="38.03" fill="rgb(147,0,0)"/>
<rect x="964.94" y="697.03" width="38.03" height="38.03" fill="rgb(147,0,0)"/>
<rect x="1001.97" y="697.03" width="38.03" height="38.03" fill="rgb(147,0,0)"/>
<rect x="1039" y="697.03" width="38.03" height="38.03" fill="rgb(147,0,0)"/>
<rect x="1076.03" y="697.03" width="38.03" height="38.03" fill="rgb(180,0,0)"/>
<rect x="1113.06" y="697.03" width="38.03" height="38.03" fill="rgb(113,0,0)"/>
<rect x="1150.09" y="697.03" width="38.03" height="38.03" fill="rgb(113,0,0)"/>
<rect x="1187.12" y="697.03" width="38.03" height="38.03" fill="rgb(113,0,0)"/>
<rect x="1224.15" y="697.03" width="38.03" height="38.03" fill="rgb(113,0,0)"/>
<rect x="1261.18" y="697.03" width="38.03" height="38.03" fill="rgb(147,0,0)"/>
<rect x="1298.21" y="697.03" width="86.03" height="38.03" fill="rgb(147,0,0)"/>
<rect x="102.28" y="734.06" width="86.03" height="38.03" fill="rgb(80,0,0)"/>
<rect x="187.31" y="734.06" width="38.03" height="38.03" fill="rgb(80,0,0)"/>
<rect x="224.34" y="734.06" width="38.03" height="38.03" fill="rgb(113,0,0)"/>
<rect x="261.37" y="734.06" width="38.03" height="38.03" fill="rgb(80,0,0)"/>
<rect x="298.4" y="734.06" width="38.03" height="38.03" fill="rgb(80,0,0)"/>
<rect x="335.43" y="734.06" width="38.03" height="38.03" fill="rgb(113,0,0)"/>
<rect x="372.46" y="734.06" width="38.03" height="38.03" fill="rgb(147,0,0)"/>
<rect x="409.49" y="734.06" width="38.03" height="38.03" fill="rgb(113,0,0)"/>
<rect x="446.52" y="734.06" width="38.03" height="38.03" fill="rgb(113,0,0)"/>
<rect x="483.55" y="734.06" width="38.03" height="38.03" fill="rgb(80,0,0)"/>
<rect x="520.58" y="734.06" width="38.03" height="38.03" fill="rgb(80,0,0)"/>
<rect x="557.61" y="734.06" width="38.03" height="38.03" fill="rgb(80,0,0)"/>
<rect x="594.64" y="734.06" width="38.03" height="38.03" fill="rgb(47,0,0)"/>
<rect x="631.67" y="734.06" width="38.03" height="38.03" fill="rgb(80,0,0)"/>
<rect x="668.7" y="734.06" width="38.03" height="38.03" fill="rgb(113,0,0)"/>
<rect x="705.73" y="734.06" width="38.03" height="38.03" fill="rgb(80,0,0)"/>
<rect x="742.76" y="734.06" width="38.03" height="38.03" fill="rgb(80,0,0)"/>
<rect x="779.79" y="734.06" width="38.03" height="38.03" fill="rgb(80,0,0)"/>
<rect x="816.82" y="734.06" width="38.03" height="38.03" fill="rgb(113,0,0)"/>
<rect x="853.85" y="734.06" width="38.03" height="38.03" fill="rgb(147,0,0)"/>
<rect x="890.88" y="734.06" width="38.03" height="38.03" fill="rgb(147,0,0)"/>
<rect x="927.91" y="734.06" width="38.03" height="38.03" fill="rgb(147,0,0)"/>
<rect x="964.94" y="734.06" width="38.03" height="38.03" fill="rgb(147,0,0)"/>
<rect x="1001.97" y="734.06" width="38.03" height="38.03" fill="rgb(147,0,0)"/>
<rect x="1039" y="734.06" width="38.03" height="38.03" fill="rgb(147,0,0)"/>
<rect x="1076.03" y="734.06" width="38.03" height="38.03" fill="rgb(147,0,0)"/>
<rect x="1113.06" y="734.06" width="38.03" height="38.03" fill="rgb(147,0,0)"/>
<rect x="1150.09" y="734.06" width="38.03" height="38.03" fill="rgb(113,0,0)"/>
<rect x="1187.12" y="734.06" width="38.03" height="38.03" fill="rgb(113,0,0)"/>
<rect x="1224.15" y="734.06" width="38.03" height="38.03" fill="rgb(147,0,0)"/>
<rect x="1261.18" y="734.06" width="38.03" height="38.03" fill="rgb(180,0,0)"/>
<rect x="1298.21" y="734.06" width="86.03" height="38.03" fill="rgb(180,0,0)"/>
<rect x="102.28" y="771.09" width="86.03" height="38.03" fill="rgb(80,0,0)"/>
<rect x="187.31" y="771.09" width="38.03" height="38.03" fill="rgb(80,0,0)"/>
<rect x="224.34" y="771.09" width="38.03" height="38.03" fill="rgb(47,0,0)"/>
<rect x="261.37" y="771.09" width="38.03" height="38.03" fill="rgb(80,0,0)"/>
<rect x="298.4" y="771.09" width="38.03" height="38.03" fill="rgb(80,0,0)"/>
<rect x="335.43" y="771.09" width="38.03" height="38.03" fill="rgb(90,0,0)"/>
<rect x="372.46" y="771.09" width="38.03" height="38.03" fill="rgb(123,0,0)"/>
<rect x="409.49" y="771.09" width="38.03" height="38.03" fill="rgb(157,0,0)"/>
<rect x="446.52" y="771.09" width="38.03" height="38.03" fill="rgb(123,0,0)"/>
<rect x="483.55" y="771.09" width="38.03" height="38.03" fill="rgb(80,0,0)"/>
<rect x="520.58" y="771.09" width="38.03" height="38.03" fill="rgb(113,0,0)"/>
<rect x="557.61" y="771.09" width="38.03" height="38.03" fill="rgb(113,0,0)"/>
<rect x="594.64" y="771.09" width="38.03" height="38.03" fill="rgb(147,0,0)"/>
<rect x="631.67" y="771.09" width="38.03" height="38.03" fill="rgb(147,0,0)"/>
<rect x="668.7" y="771.09" width="38.03" height="38.03" fill="rgb(147,0,0)"/>
<rect x="705.73" y="771.09" width="38.03" height="38.03" fill="rgb(147,0,0)"/>
<rect x="742.76" y="771.09" width="38.03" height="38.03" fill="rgb(113,0,0)"/>
<rect x="779.79" y="771.09" width="38.03" height="38.03" fill="rgb(113,0,0)"/>
<rect x="816.82" y="771.09" width="38.03" height="38.03" fill="rgb(80,0,0)"/>
<rect x="853.85" y="771.09" width="38.03" height="38.03" fill="rgb(113,0,0)"/>
<rect x="890.88" y="771.09" width="38.03" height="38.03" fill="rgb(147,0,0)"/>
<rect x="927.91" y="771.09" width="38.03" height="38.03" fill="rgb(147,0,0)"/>
<rect x="964.94" y="771.09" width="38.03" height="38.03" fill="rgb(180,0,0)"/>
<rect x="1001.97" y="771.09" width="38.03" height="38.03" fill="rgb(180,0,0)"/>
<rect x="1039" y="771.09" width="38.03" height="38.03" fill="rgb(180,0,0)"/>
<rect x="1076.03" y="771.09" width="38.03" height="38.03" fill="rgb(147,0,0)"/>
<rect x="1113.06" y="771.09" width="38.03" height="38.03" fill="rgb(113,0,0)"/>
<rect x="1150.09" y="771.09" width="38.03" height="38.03" fill="rgb(147,0,0)"/>
<rect x="1187.12" y="771.09" width="38.03" height="38.03" fill="rgb(147,0,0)"/>
<rect x="1224.15" y="771.09" width="38.03" height="38.03" fill="rgb(147,0,0)"/>
<rect x="1261.18" y="771.09" width="38.03" height="38.03" fill="rgb(213,0,0)"/>
<rect x="1298.21" y="771.09" width="86.03" height="38.03" fill="rgb(246,0,0)"/>
<rect x="102.28" y="808.12" width="86.03" height="38.03" fill="rgb(80,0,0)"/>
<rect x="187.31" y="808.12" width="38.03" height="38.03" fill="rgb(80,0,0)"/>
<rect x="224.34" y="808.12" width="38.03" height="38.03" fill="rgb(47,0,0)"/>
<rect x="261.37" y="808.12" width="38.03" height="38.03" fill="rgb(80,0,0)"/>
<rect x="298.4" y="808.12" width="38.03" height="38.03" fill="rgb(47,0,0)"/>
<rect x="335.43" y="808.12" width="38.03" height="38.03" fill="rgb(90,0,0)"/>
<rect x="372.46" y="808.12" width="38.03" height="38.03" fill="rgb(123,0,0)"/>
<rect x="409.49" y="808.12" width="38.03" height="38.03" fill="rgb(123,0,0)"/>
<rect x="446.52" y="808.12" width="38.03" height="38.03" fill="rgb(157,0,0)"/>
<rect x="483.55" y="808.12" width="38.03" height="38.03" fill="rgb(147,0,0)"/>
<rect x="520.58" y="808.12" width="38.03" height="38.03" fill="rgb(147,0,0)"/>
<rect x="557.61" y="808.12" width="38.03" height="38.03" fill="rgb(147,0,0)"/>
<rect x="594.64" y="808.12" width="38.03" height="38.03" fill="rgb(147,0,0)"/>
<rect x="631.67" y="808.12" width="38.03" height="38.03" fill="rgb(113,0,0)"/>
<rect x="668.7" y="808.12" width="38.03" height="38.03" fill="rgb(147,0,0)"/>
<rect x="705.73" y="808.12" width="38.03" height="38.03" fill="rgb(147,0,0)"/>
<rect x="742.76" y="808.12" width="38.03" height="38.03" fill="rgb(113,0,0)"/>
<rect x="779.79" y="808.12" width="38.03" height="38.03" fill="rgb(113,0,0)"/>
<rect x="816.82" y="808.12" width="38.03" height="38.03" fill="rgb(80,0,0)"/>
<rect x="853.85" y="808.12" width="38.03" height="38.03" fill="rgb(80,0,0)"/>
<rect x="890.88" y="808.12" width="38.03" height="38.03" fill="rgb(147,0,0)"/>
<rect x="927.91" y="808.12" width="38.03" height="38.03" fill="rgb(147,0,0)"/>
<rect x="964.94" y="808.12" width="38.03" height="38.03" fill="rgb(147,0,0)"/>
<rect x="1001.97" y="808.12" width="38.03" height="38.03" fill="rgb(147,0,0)"/>
<rect x="1039" y="808.12" width="38.03" height="38.03" fill="rgb(147,0,0)"/>
<rect x="1076.03" y="808.12" width="38.03" height="38.03" fill="rgb(147,0,0)"/>
<rect x="1113.06" y="808.12" width="38.03" height="38.03" fill="rgb(147,0,0)"/>
<rect x="1150.09" y="808.12" width="38.03" height="38.03" fill="rgb(147,0,0)"/>
<rect x="1187.12" y="808.12" width="38.03" height="38.03" fill="rgb(180,0,0)"/>
<rect x="1224.15" y="808.12" width="38.03" height="38.03" fill="rgb(213,0,0)"/>
<rect x="1261.18" y="808.12" width="38.03" height="38.03" fill="rgb(213,0,0)"/>
<rect x="1298.21" y="808.12" width="86.03" height="38.03" fill="rgb(246,0,0)"/>
<rect x="102.28" y="845.15" width="86.03" height="38.03" fill="rgb(80,0,0)"/>
<rect x="187.31" y="845.15" width="38.03" height="38.03" fill="rgb(47,0,0)"/>
<rect x="224.34" y="845.15" width="38.03" height="38.03" fill="rgb(80,0,0)"/>
<rect x="261.37" y="845.15" width="38.03" height="38.03" fill="rgb(80,0,0)"/>
<rect x="298.4" y="845.15" width="38.03" height="38.03" fill="rgb(47,0,0)"/>
<rect x="335.43" y="845.15" width="38.03" height="38.03" fill="rgb(90,0,0)"/>
<rect x="372.46" y="845.15" width="38.03" height="38.03" fill="rgb(123,0,0)"/>
<rect x="409.49" y="845.15" width="38.03" height="38.03" fill="rgb(90,0,0)"/>
<rect x="446.52" y="845.15" width="38.03" height="38.03" fill="rgb(123,0,0)"/>
<rect x="483.55" y="845.15" width="38.03" height="38.03" fill="rgb(147,0,0)"/>
<rect x="520.58" y="845.15" width="38.03" height="38.03" fill="rgb(147,0,0)"/>
<rect x="557.61" y="845.15" width="38.03" height="38.03" fill="rgb(147,0,0)"/>
<rect x="594.64" y="845.15" width="38.03" height="38.03" fill="rgb(113,0,0)"/>
<rect x="631.67" y="845.15" width="38.03" height="38.03" fill="rgb(113,0,0)"/>
<rect x="668.7" y="845.15" width="38.03" height="38.03" fill="rgb(147,0,0)"/>
<rect x="705.73" y="845.15" width="38.03" height="38.03" fill="rgb(180,0,0)"/>
<rect x="742.76" y="845.15" width="38.03" height="38.03" fill="rgb(147,0,0)"/>
<rect x="779.79" y="845.15" width="38.03" height="38.03" fill="rgb(113,0,0)"/>
<rect x="816.82" y="845.15" width="38.03" height="38.03" fill="rgb(113,0,0)"/>
<rect x="853.85" y="845.15" width="38.03" height="38.03" fill="rgb(113,0,0)"/>
<rect x="890.88" y="845.15" width="38.03" height="38.03" fill="rgb(180,0,0)"/>
<rect x="927.91" y="845.15" width="38.03" height="38.03" fill="rgb(180,0,0)"/>
<rect x="964.94" y="845.15" width="38.03" height="38.03" fill="rgb(147,0,0)"/>
<rect x="1001.97" y="845.15" width="38.03" height="38.03" fill="rgb(147,0,0)"/>
<rect x="1039" y="845.15" width="38.03" height="38.03" fill="rgb(147,0,0)"/>
<rect x="1076.03" y="845.15" width="38.03" height="38.03" fill="rgb(147,0,0)"/>
<rect x="1113.06" y="845.15" width="38.03" height="38.03" fill="rgb(147,0,0)"/>
<rect x="1150.09" y="845.15" width="38.03" height="38.03" fill="rgb(180,0,0)"/>
<rect x="1187.12" y="845.15" width="38.03" height="38.03" fill="rgb(180,0,0)"/>
<rect x="1224.15" y="845.15" width="38.03" height="38.03" fill="rgb(213,0,0)"/>
<rect x="1261.18" y="845.15" width="38.03" height="38.03" fill="rgb(246,0,0)"/>
<rect x="1298.21" y="845.15" width="86.03" height="38.03" fill="rgb(246,0,0)"/>
<rect x="102.28" y="882.18" width="86.03" height="38.03" fill="rgb(80,0,0)"/>
<rect x="187.31" y="882.18" width="38.03" height="38.03" fill="rgb(80,0,0)"/>
<rect x="224.34" y="882.18" width="38.03" height="38.03" fill="rgb(37,0,0)"/>
<rect x="261.37" y="882.18" width="38.03" height="38.03" fill="rgb(80,0,0)"/>
<rect x="298.4" y="882.18" width="38.03" height="38.03" fill="rgb(80,0,0)"/>
<rect x="335.43" y="882.18" width="38.03" height="38.03" fill="rgb(113,0,0)"/>
<rect x="372.46" y="882.18" width="38.03" height="38.03" fill="rgb(113,0,0)"/>
<rect x="409.49" y="882.18" width="38.03" height="38.03" fill="rgb(113,0,0)"/>
<rect x="446.52" y="882.18" width="38.03" height="38.03" fill="rgb(113,0,0)"/>
<rect x="483.55" y="882.18" width="38.03" height="38.03" fill="rgb(113,0,0)"/>
<rect x="520.58" y="882.18" width="38.03" height="38.03" fill="rgb(147,0,0)"/>
<rect x="557.61" y="882.18" width="38.03" height="38.03" fill="rgb(147,0,0)"/>
<rect x="594.64" y="882.18" width="38.03" height="38.03" fill="rgb(113,0,0)"/>
<rect x="631.67" y="882.18" width="38.03" height="38.03" fill="rgb(147,0,0)"/>
<rect x="668.7" y="882.18" width="38.03" height="38.03" fill="rgb(147,0,0)"/>
<rect x="705.73" y="882.18" width="38.03" height="38.03" fill="rgb(147,0,0)"/>
<rect x="742.76" y="882.18" width="38.03" height="38.03" fill="rgb(147,0,0)"/>
<rect x="779.79" y="882.18" width="38.03" height="38.03" fill="rgb(147,0,0)"/>
<rect x="816.82" y="882.18" width="38.03" height="38.03" fill="rgb(147,0,0)"/>
<rect x="853.85" y="882.18" width="38.03" height="38.03" fill="rgb(147,0,0)"/>
<rect x="890.88" y="882.18" width="38.03" height="38.03" fill="rgb(147,0,0)"/>
<rect x="927.91" y="882.18" width="38.03" height="38.03" fill="rgb(147,0,0)"/>
<rect x="964.94" y="882.18" width="38.03" height="38.03" fill="rgb(147,0,0)"/>
<rect x="1001.97" y="882.18" width="38.03" height="38.03" fill="rgb(113,0,0)"/>
<rect x="1039" y="882.18" width="38.03" height="38.03" fill="rgb(113,0,0)"/>
<rect x="1076.03" y="882.18" width="38.03" height="38.03" fill="rgb(113,0,0)"/>
<rect x="1113.06" y="882.18" width="38.03" height="38.03" fill="rgb(147,0,0)"/>
<rect x="1150.09" y="882.18" width="38.03" height="38.03" fill="rgb(147,0,0)"/>
<rect x="1187.12" y="882.18" width="38.03" height="38.03" fill="rgb(213,0,0)"/>
<rect x="1224.15" y="882.18" width="38.03" height="38.03" fill="rgb(213,0,0)"/>
<rect x="1261.18" y="882.18" width="38.03" height="38.03" fill="rgb(246,0,0)"/>
<rect x="1298.21" y="882.18" width="86.03" height="38.03" fill="rgb(255,0,0)"/>
<rect x="102.28" y="919.21" width="86.03" height="38.03" fill="rgb(80,0,0)"/>
<rect x="187.31" y="919.21" width="38.03" height="38.03" fill="rgb(80,0,0)"/>
<rect x="224.34" y="919.21" width="38.03" height="38.03" fill="rgb(37,0,0)"/>
<rect x="261.37" y="919.21" width="38.03" height="38.03" fill="rgb(80,0,0)"/>
<rect x="298.4" y="919.21" width="38.03" height="38.03" fill="rgb(80,0,0)"/>
<rect x="335.43" y="919.21" width="38.03" height="38.03" fill="rgb(113,0,0)"/>
<rect x="372.46" y="919.21" width="38.03" height="38.03" fill="rgb(113,0,0)"/>
<rect x="409.49" y="919.21" width="38.03" height="38.03" fill="rgb(113,0,0)"/>
<rect x="446.52" y="919.21" width="38.03" height="38.03" fill="rgb(113,0,0)"/>
<rect x="483.55" y="919.21" width="38.03" height="38.03" fill="rgb(113,0,0)"/>
<rect x="520.58" y="919.21" width="38.03" height="38.03" fill="rgb(147,0,0)"/>
<rect x="557.61" y="919.21" width="38.03" height="38.03" fill="rgb(147,0,0)"/>
<rect x="594.64" y="919.21" width="38.03" height="38.03" fill="rgb(147,0,0)"/>
<rect x="631.67" y="919.21" width="38.03" height="38.03" fill="rgb(147,0,0)"/>
<rect x="668.7" y="919.21" width="38.03" height="38.03" fill="rgb(180,0,0)"/>
<rect x="705.73" y="919.21" width="38.03" height="38.03" fill="rgb(180,0,0)"/>
<rect x="742.76" y="919.21" width="38.03" height="38.03" fill="rgb(147,0,0)"/>
<rect x="779.79" y="919.21" width="38.03" height="38.03" fill="rgb(147,0,0)"/>
<rect x="816.82" y="919.21" width="38.03" height="38.03" fill="rgb(147,0,0)"/>
<rect x="853.85" y="919.21" width="38.03" height="38.03" fill="rgb(147,0,0)"/>
<rect x="890.88" y="919.21" width="38.03" height="38.03" fill="rgb(147,0,0)"/>
<rect x="927.91" y="919.21" width="38.03" height="38.03" fill="rgb(180,0,0)"/>
<rect x="964.94" y="919.21" width="38.03" height="38.03" fill="rgb(180,0,0)"/>
<rect x="1001.97" y="919.21" width="38.03" height="38.03" fill="rgb(147,0,0)"/>
<rect x="1039" y="919.21" width="38.03" height="38.03" fill="rgb(113,0,0)"/>
<rect x="1076.03" y="919.21" width="38.03" height="38.03" fill="rgb(113,0,0)"/>
<rect x="1113.06" y="919.21" width="38.03" height="38.03" fill="rgb(147,0,0)"/>
<rect x="1150.09" y="919.21" width="38.03" height="38.03" fill="rgb(180,0,0)"/>
<rect x="1187.12" y="919.21" width="38.03" height="38.03" fill="rgb(213,0,0)"/>
<rect x="1224.15" y="919.21" width="38.03" height="38.03" fill="rgb(213,0,0)"/>
<rect x="1261.18" y="919.21" width="38.03" height="38.03" fill="rgb(213,0,0)"/>
<rect x="1298.21" y="919.21" width="86.03" height="38.03" fill="rgb(255,0,0)"/>
<rect x="102.28" y="956.24" width="86.03" height="38.03" fill="rgb(113,0,0)"/>
<rect x="187.31" y="956.24" width="38.03" height="38.03" fill="rgb(80,0,0)"/>
<rect x="224.34" y="956.24" width="38.03" height="38.03" fill="rgb(80,0,0)"/>
<rect x="261.37" y="956.24" width="38.03" height="38.03" fill="rgb(80,0,0)"/>
<rect x="298.4" y="956.24" width="38.03" height="38.03" fill="rgb(80,0,0)"/>
<rect x="335.43" y="956.24" width="38.03" height="38.03" fill="rgb(113,0,0)"/>
<rect x="372.46" y="956.24" width="38.03" height="38.03" fill="rgb(113,0,0)"/>
<rect x="409.49" y="956.24" width="38.03" height="38.03" fill="rgb(147,0,0)"/>
<rect x="446.52" y="956.24" width="38.03" height="38.03" fill="rgb(113,0,0)"/>
<rect x="483.55" y="956.24" width="38.03" height="38.03" fill="rgb(147,0,0)"/>
<rect x="520.58" y="956.24" width="38.03" height="38.03" fill="rgb(80,0,0)"/>
<rect x="557.61" y="956.24" width="38.03" height="38.03" fill="rgb(147,0,0)"/>
<rect x="594.64" y="956.24" width="38.03" height="38.03" fill="rgb(147,0,0)"/>
<rect x="631.67" y="956.24" width="38.03" height="38.03" fill="rgb(180,0,0)"/>
<rect x="668.7" y="956.24" width="38.03" height="38.03" fill="rgb(147,0,0)"/>
<rect x="705.73" y="956.24" width="38.03" height="38.03" fill="rgb(147,0,0)"/>
<rect x="742.76" y="956.24" width="38.03" height="38.03" fill="rgb(147,0,0)"/>
<rect x="779.79" y="956.24" width="38.03" height="38.03" fill="rgb(147,0,0)"/>
<rect x="816.82" y="956.24" width="38.03" height="38.03" fill="rgb(147,0,0)"/>
<rect x="853.85" y="956.24" width="38.03" height="38.03" fill="rgb(147,0,0)"/>
<rect x="890.88" y="956.24" width="38.03" height="38.03" fill="rgb(147,0,0)"/>
<rect x="927.91" y="956.24" width="38.03" height="38.03" fill="rgb(180,0,0)"/>
<rect x="964.94" y="956.24" width="38.03" height="38.03" fill="rgb(147,0,0)"/>
<rect x="1001.97" y="956.24" width="38.03" height="38.03" fill="rgb(147,0,0)"/>
<rect x="1039" y="956.24" width="38.03" height="38.03" fill="rgb(147,0,0)"/>
<rect x="1076.03" y="956.24" width="38.03" height="38.03" fill="rgb(180,0,0)"/>
<rect x="1113.06" y="956.24" width="38.03" height="38.03" fill="rgb(147,0,0)"/>
<rect x="1150.09" y="956.24" width="38.03" height="38.03" fill="rgb(147,0,0)"/>
<rect x="1187.12" y="956.24" width="38.03" height="38.03" fill="rgb(180,0,0)"/>
<rect x="1224.15" y="956.24" width="38.03" height="38.03" fill="rgb(213,0,0)"/>
<rect x="1261.18" y="956.24" width="38.03" height="38.03" fill="rgb(213,0,0)"/>
<rect x="1298.21" y="956.24" width="86.03" height="38.03" fill="rgb(246,0,0)"/>
<rect x="102.28" y="993.27" width="86.03" height="38.03" fill="rgb(113,0,0)"/>
<rect x="187.31" y="993.27" width="38.03" height="38.03" fill="rgb(160,0,0)"/>
<rect x="224.34" y="993.27" width="38.03" height="38.03" fill="rgb(160,0,0)"/>
<rect x="261.37" y="993.27" width="38.03" height="38.03" fill="rgb(160,0,0)"/>
<rect x="298.4" y="993.27" width="38.03" height="38.03" fill="rgb(160,0,0)"/>
<rect x="335.43" y="993.27" width="38.03" height="38.03" fill="rgb(160,0,0)"/>
<rect x="372.46" y="993.27" width="38.03" height="38.03" fill="rgb(160,0,0)"/>
<rect x="409.49" y="993.27" width="38.03" height="38.03" fill="rgb(160,0,0)"/>
<rect x="446.52" y="993.27" width="38.03" height="38.03" fill="rgb(160,0,0)"/>
<rect x="483.55" y="993.27" width="38.03" height="38.03" fill="rgb(113,0,0)"/>
<rect x="520.58" y="993.27" width="38.03" height="38.03" fill="rgb(113,0,0)"/>
<rect x="557.61" y="993.27" width="38.03" height="38.03" fill="rgb(147,0,0)"/>
<rect x="594.64" y="993.27" width="38.03" height="38.03" fill="rgb(147,0,0)"/>
<rect x="631.67" y="993.27" width="38.03" height="38.03" fill="rgb(147,0,0)"/>
<rect x="668.7" y="993.27" width="38.03" height="38.03" fill="rgb(147,0,0)"/>
<rect x="705.73" y="993.27" width="38.03" height="38.03" fill="rgb(113,0,0)"/>
<rect x="742.76" y="993.27" width="38.03" height="38.03" fill="rgb(80,0,0)"/>
<rect x="779.79" y="993.27" width="38.03" height="38.03" fill="rgb(113,0,0)"/>
<rect x="816.82" y="993.27" width="38.03" height="38.03" fill="rgb(113,0,0)"/>
<rect x="853.85" y="993.27" width="38.03" height="38.03" fill="rgb(113,0,0)"/>
<rect x="890.88" y="993.27" width="38.03" height="38.03" fill="rgb(147,0,0)"/>
<rect x="927.91" y="993.27" width="38.03" height="38.03" fill="rgb(147,0,0)"/>
<rect x="964.94" y="993.27" width="38.03" height="38.03" fill="rgb(180,0,0)"/>
<rect x="1001.97" y="993.27" width="38.03" height="38.03" fill="rgb(147,0,0)"/>
<rect x="1039" y="993.27" width="38.03" height="38.03" fill="rgb(147,0,0)"/>
<rect x="1076.03" y="993.27" width="38.03" height="38.03" fill="rgb(180,0,0)"/>
<rect x="1113.06" y="993.27" width="38.03" height="38.03" fill="rgb(180,0,0)"/>
<rect x="1150.09" y="993.27" width="38.03" height="38.03" fill="rgb(147,0,0)"/>
<rect x="1187.12" y="993.27" width="38.03" height="38.03" fill="rgb(147,0,0)"/>
<rect x="1224.15" y="993.27" width="38.03" height="38.03" fill="rgb(180,0,0)"/>
<rect x="1261.18" y="993.27" width="38.03" height="38.03" fill="rgb(180,0,0)"/>
<rect x="1298.21" y="993.27" width="86.03" height="38.03" fill="rgb(213,0,0)"/>
<rect x="102.28" y="1030.3" width="86.03" height="38.03" fill="rgb(147,0,0)"/>
<rect x="187.31" y="1030.3" width="38.03" height="38.03" fill="rgb(160,0,0)"/>
<rect x="224.34" y="1030.3" width="38.03" height="38.03" fill="rgb(160,0,0)"/>
<rect x="261.37" y="1030.3" width="38.03" height="38.03" fill="rgb(160,0,0)"/>
<rect x="298.4" y="1030.3" width="38.03" height="38.03" fill="rgb(160,0,0)"/>
<rect x="335.43" y="1030.3" width="38.03" height="38.03" fill="rgb(160,0,0)"/>
<rect x="372.46" y="1030.3" width="38.03" height="38.03" fill="rgb(160,0,0)"/>
<rect x="409.49" y="1030.3" width="38.03" height="38.03" fill="rgb(160,0,0)"/>
<rect x="446.52" y="1030.3" width="38.03" height="38.03" fill="rgb(160,0,0)"/>
<rect x="483.55" y="1030.3" width="38.03" height="38.03" fill="rgb(113,0,0)"/>
<rect x="520.58" y="1030.3" width="38.03" height="38.03" fill="rgb(113,0,0)"/>
<rect x="557.61" y="1030.3" width="38.03" height="38.03" fill="rgb(113,0,0)"/>
<rect x="594.64" y="1030.3" width="38.03" height="38.03" fill="rgb(113,0,0)"/>
<rect x="631.67" y="1030.3" width="38.03" height="38.03" fill="rgb(113,0,0)"/>
<rect x="668.7" y="1030.3" width="38.03" height="38.03" fill="rgb(113,0,0)"/>
<rect x="705.73" y="1030.3" width="38.03" height="38.03" fill="rgb(113,0,0)"/>
<rect x="742.76" y="1030.3" width="38.03" height="38.03" fill="rgb(80,0,0)"/>
<rect x="779.79" y="1030.3" width="38.03" height="38.03" fill="rgb(80,0,0)"/>
<rect x="816.82" y="1030.3" width="38.03" height="38.03" fill="rgb(80,0,0)"/>
<rect x="853.85" y="1030.3" width="38.03" height="38.03" fill="rgb(113,0,0)"/>
<rect x="890.88" y="1030.3" width="38.03" height="38.03" fill="rgb(147,0,0)"/>
<rect x="927.91" y="1030.3" width="38.03" height="38.03" fill="rgb(147,0,0)"/>
<rect x="964.94" y="1030.3" width="38.03" height="38.03" fill="rgb(147,0,0)"/>
<rect x="1001.97" y="1030.3" width="38.03" height="38.03" fill="rgb(113,0,0)"/>
<rect x="1039" y="1030.3" width="38.03" height="38.03" fill="rgb(147,0,0)"/>
<rect x="1076.03" y="1030.3" width="38.03" height="38.03" fill="rgb(180,0,0)"/>
<rect x="1113.06" y="1030.3" width="38.03" height="38.03" fill="rgb(180,0,0)"/>
<rect x="1150.09" y="1030.3" width="38.03" height="38.03" fill="rgb(180,0,0)"/>
<rect x="1187.12" y="1030.3" width="38.03" height="38.03" fill="rgb(147,0,0)"/>
<rect x="1224.15" y="1030.3" width="38.03" height="38.03" fill="rgb(147,0,0)"/>
<rect x="1261.18" y="1030.3" width="38.03" height="38.03" fill="rgb(147,0,0)"/>
<rect x="1298.21" y="1030.3" width="86.03" height="38.03" fill="rgb(213,0,0)"/>
<rect x="102.28" y="1067.33" width="86.03" height="38.03" fill="rgb(147,0,0)"/>
<rect x="187.31" y="1067.33" width="38.03" height="38.03" fill="rgb(193,0,0)"/>
<rect x="224.34" y="1067.33" width="38.03" height="38.03" fill="rgb(193,0,0)"/>
<rect x="261.37" y="1067.33" width="38.03" height="38.03" fill="rgb(193,0,0)"/>
<rect x="298.4" y="1067.33" width="38.03" height="38.03" fill="rgb(193,0,0)"/>
<rect x="335.43" y="1067.33" width="38.03" height="38.03" fill="rgb(193,0,0)"/>
<rect x="372.46" y="1067.33" width="38.03" height="38.03" fill="rgb(193,0,0)"/>
<rect x="409.49" y="1067.33" width="38.03" height="38.03" fill="rgb(193,0,0)"/>
<rect x="446.52" y="1067.33" width="38.03" height="38.03" fill="rgb(193,0,0)"/>
<rect x="483.55" y="1067.33" width="38.03" height="38.03" fill="rgb(113,0,0)"/>
<rect x="520.58" y="1067.33" width="38.03" height="38.03" fill="rgb(147,0,0)"/>
<rect x="557.61" y="1067.33" width="38.03" height="38.03" fill="rgb(113,0,0)"/>
<rect x="594.64" y="1067.33" width="38.03" height="38.03" fill="rgb(113,0,0)"/>
<rect x="631.67" y="1067.33" width="38.03" height="38.03" fill="rgb(113,0,0)"/>
<rect x="668.7" y="1067.33" width="38.03" height="38.03" fill="rgb(113,0,0)"/>
<rect x="705.73" y="1067.33" width="38.03" height="38.03" fill="rgb(113,0,0)"/>
<rect x="742.76" y="1067.33" width="38.03" height="38.03" fill="rgb(80,0,0)"/>
<rect x="779.79" y="1067.33" width="38.03" height="38.03" fill="rgb(80,0,0)"/>
<rect x="816.82" y="1067.33" width="38.03" height="38.03" fill="rgb(80,0,0)"/>
<rect x="853.85" y="1067.33" width="38.03" height="38.03" fill="rgb(147,0,0)"/>
<rect x="890.88" y="1067.33" width="38.03" height="38.03" fill="rgb(147,0,0)"/>
<rect x="927.91" y="1067.33" width="38.03" height="38.03" fill="rgb(147,0,0)"/>
<rect x="964.94" y="1067.33" width="38.03" height="38.03" fill="rgb(147,0,0)"/>
<rect x="1001.97" y="1067.33" width="38.03" height="38.03" fill="rgb(147,0,0)"/>
<rect x="1039" y="1067.33" width="38.03" height="38.03" fill="rgb(147,0,0)"/>
<rect x="1076.03" y="1067.33" width="38.03" height="38.03" fill="rgb(213,0,0)"/>
<rect x="1113.06" y="1067.33" width="38.03" height="38.03" fill="rgb(213,0,0)"/>
<rect x="1150.09" y="1067.33" width="38.03" height="38.03" fill="rgb(180,0,0)"/>
<rect x="1187.12" y="1067.33" width="38.03" height="38.03" fill="rgb(147,0,0)"/>
<rect x="1224.15" y="1067.33" width="38.03" height="38.03" fill="rgb(147,0,0)"/>
<rect x="1261.18" y="1067.33" width="38.03" height="38.03" fill="rgb(180,0,0)"/>
<rect x="1298.21" y="1067.33" width="86.03" height="38.03" fill="rgb(213,0,0)"/>
<rect x="102.28" y="1104.36" width="86.03" height="86.03" fill="rgb(147,0,0)"/>
<rect x="187.31" y="1104.36" width="38.03" height="86.03" fill="rgb(160,0,0)"/>
<rect x="224.34" y="1104.36" width="38.03" height="86.03" fill="rgb(160,0,0)"/>
<rect x="261.37" y="1104.36" width="38.03" height="86.03" fill="rgb(160,0,0)"/>
<rect x="298.4" y="1104.36" width="38.03" height="86.03" fill="rgb(127,0,0)"/>
<rect x="335.43" y="1104.36" width="38.03" height="86.03" fill="rgb(127,0,0)"/>
<rect x="372.46" y="1104.36" width="38.03" height="86.03" fill="rgb(127,0,0)"/>
<rect x="409.49" y="1104.36" width="38.03" height="86.03" fill="rgb(127,0,0)"/>
<rect x="446.52" y="1104.36" width="38.03" height="86.03" fill="rgb(127,0,0)"/>
<rect x="483.55" y="1104.36" width="38.03" height="86.03" fill="rgb(147,0,0)"/>
<rect x="520.58" y="1104.36" width="38.03" height="86.03" fill="rgb(147,0,0)"/>
<rect x="557.61" y="1104.36" width="38.03" height="86.03" fill="rgb(113,0,0)"/>
<rect x="594.64" y="1104.36" width="38.03" height="86.03" fill="rgb(113,0,0)"/>
<rect x="631.67" y="1104.36" width="38.03" height="86.03" fill="rgb(147,0,0)"/>
<rect x="668.7" y="1104.36" width="38.03" height="86.03" fill="rgb(113,0,0)"/>
<rect x="705.73" y="1104.36" width="38.03" height="86.03" fill="rgb(80,0,0)"/>
<rect x="742.76" y="1104.36" width="38.03" height="86.03" fill="rgb(80,0,0)"/>
<rect x="779.79" y="1104.36" width="38.03" height="86.03" fill="rgb(80,0,0)"/>
<rect x="816.82" y="1104.36" width="38.03" height="86.03" fill="rgb(113,0,0)"/>
<rect x="853.85" y="1104.36" width="38.03" height="86.03" fill="rgb(113,0,0)"/>
<rect x="890.88" y="1104.36" width="38.03" height="86.03" fill="rgb(147,0,0)"/>
<rect x="927.91" y="1104.36" width="38.03" height="86.03" fill="rgb(147,0,0)"/>
<rect x="964.94" y="1104.36" width="38.03" height="86.03" fill="rgb(147,0,0)"/>
<rect x="1001.97" y="1104.36" width="38.03" height="86.03" fill="rgb(147,0,0)"/>
<rect x="1039" y="1104.36" width="38.03" height="86.03" fill="rgb(147,0,0)"/>
<rect x="1076.03" y="1104.36" width="38.03" height="86.03" fill="rgb(147,0,0)"/>
<rect x="1113.06" y="1104.36" width="38.03" height="86.03" fill="rgb(180,0,0)"/>
<rect x="1150.09" y="1104.36" width="38.03" height="86.03" fill="rgb(180,0,0)"/>
<rect x="1187.12" y="1104.36" width="38.03" height="86.03" fill="rgb(147,0,0)"/>
<rect x="1224.15" y="1104.36" width="38.03" height="86.03" fill="rgb(180,0,0)"/>
<rect x="1261.18" y="1104.36" width="38.03" height="86.03" fill="rgb(180,0,0)"/>
<rect x="1298.21" y="1104.36" width="86.03" height="86.03" fill="rgb(213,0,0)"/>
<g class="sc">
<ellipse cx="328" cy="416" rx="7" ry="11" fill="rgb(0,255,0)"/>
<ellipse cx="311" cy="449" rx="9" ry="8" fill="rgb(0,255,0)"/>
<polyline points="367,411 405,413" fill="none" stroke="rgb(0,230,0)" stroke-width="7" stroke-linecap="round" stroke-linejoin="round"/>
<ellipse cx="294" cy="487" rx="13" ry="14" fill="rgb(0,255,0)"/>
<ellipse cx="393" cy="453" rx="10" ry="8" fill="rgb(0,255,0)"/>
<ellipse cx="365" cy="469" rx="9" ry="8" fill="rgb(0,230,0)"/>
<ellipse cx="324" cy="499" rx="5" ry="6" fill="rgb(0,204,0)"/>
<polyline points="318,519 350,512" fill="none" stroke="rgb(0,255,0)" stroke-width="11" stroke-linecap="round" stroke-linejoin="round"/>
<polyline points="456,461 476,470 498,486" fill="none" stroke="rgb(0,255,0)" stroke-width="16" stroke-linecap="round" stroke-linejoin="round"/>
<polyline points="190,483 194,515" fill="none" stroke="rgb(0,140,0)" stroke-width="8" stroke-linecap="round" stroke-linejoin="round"/>
<polyline points="545,495 560,530" fill="none" stroke="rgb(0,128,0)" stroke-width="9" stroke-linecap="round" stroke-linejoin="round"/>
<ellipse cx="604" cy="426" rx="7" ry="8" fill="rgb(0,230,0)"/>
<ellipse cx="579" cy="447" rx="9" ry="9" fill="rgb(0,153,0)"/>
<polyline points="481,580 503,593 521,605 527,619" fill="none" stroke="rgb(0,242,0)" stroke-width="5" stroke-linecap="round" stroke-linejoin="round"/>
<ellipse cx="513" cy="627" rx="6" ry="6" fill="rgb(0,204,0)"/>
<ellipse cx="544" cy="625" rx="7" ry="6" fill="rgb(0,178,0)"/>
<polyline points="345,582 365,583" fill="none" stroke="rgb(0,178,0)" stroke-width="4" stroke-linecap="round" stroke-linejoin="round"/>
<polyline points="622,640 622,656" fill="none" stroke="rgb(0,178,0)" stroke-width="4" stroke-linecap="round" stroke-linejoin="round"/>
<polyline points="606,573 607,589" fill="none" stroke="rgb(0,178,0)" stroke-width="4" stroke-linecap="round" stroke-linejoin="round"/>
<ellipse cx="590" cy="578" rx="3" ry="6" fill="rgb(0,178,0)"/>
<ellipse cx="462" cy="725" rx="13" ry="8" fill="rgb(0,115,0)"/>
<ellipse cx="394" cy="750" rx="6" ry="6" fill="rgb(0,178,0)"/>
<ellipse cx="565" cy="566" rx="18" ry="13" fill="rgb(0,115,0)"/>
<polyline points="600,618 603,648" fill="none" stroke="rgb(0,217,0)" stroke-width="5" stroke-linecap="round" stroke-linejoin="round"/>
<ellipse cx="430" cy="692" rx="10" ry="17" fill="rgb(0,128,0)"/>
<polyline points="160,764 178,752 197,743 222,750 241,749 257,739 284,738" fill="none" stroke="rgb(0,242,0)" stroke-width="4.5" stroke-linecap="round" stroke-linejoin="round"/>
<polyline points="380,584 401,584" fill="none" stroke="rgb(0,242,0)" stroke-width="4" stroke-linecap="round" stroke-linejoin="round"/>
<ellipse cx="383" cy="760" rx="11" ry="10" fill="rgb(0,128,0)"/>
<ellipse cx="812" cy="424" rx="26" ry="16" fill="rgb(0,255,0)"/>
<ellipse cx="868" cy="421" rx="36" ry="18" fill="rgb(0,255,0)"/>
<ellipse cx="815" cy="444" rx="16" ry="8" fill="rgb(0,204,0)"/>
<polyline points="893,440 912,460 945,482" fill="none" stroke="rgb(0,230,0)" stroke-width="22" stroke-linecap="round" stroke-linejoin="round"/>
<ellipse cx="1148" cy="426" rx="28" ry="11" fill="rgb(0,89,0)"/>
<ellipse cx="1209" cy="467" rx="18" ry="13" fill="rgb(0,115,0)"/>
<ellipse cx="1148" cy="532" rx="13" ry="12" fill="rgb(0,140,0)"/>
<ellipse cx="1158" cy="570" rx="18" ry="16" fill="rgb(0,102,0)"/>
<polyline points="897,617 915,636 935,655" fill="none" stroke="rgb(0,255,0)" stroke-width="17" stroke-linecap="round" stroke-linejoin="round"/>
<ellipse cx="970" cy="578" rx="5" ry="9" fill="rgb(0,204,0)"/>
<ellipse cx="842" cy="678" rx="10" ry="14" fill="rgb(0,204,0)"/>
<polyline points="1073,714 1105,714" fill="none" stroke="rgb(0,230,0)" stroke-width="10" stroke-linecap="round" stroke-linejoin="round"/>
<ellipse cx="1306" cy="748" rx="12" ry="20" fill="rgb(0,128,0)"/>
<polyline points="1322,800 1318,880 1318,985" fill="none" stroke="rgb(0,255,0)" stroke-width="32" stroke-linecap="round" stroke-linejoin="round"/>
<ellipse cx="1300" cy="850" rx="22" ry="60" fill="rgb(0,178,0)"/>
<ellipse cx="1296" cy="826" rx="18" ry="24" fill="rgb(0,204,0)"/>
<ellipse cx="1284" cy="905" rx="16" ry="20" fill="rgb(0,178,0)"/>
<ellipse cx="1300" cy="962" rx="14" ry="22" fill="rgb(0,178,0)"/>
<ellipse cx="1237" cy="840" rx="20" ry="10" fill="rgb(0,204,0)"/>
<polyline points="933,984 960,940 996,890" fill="none" stroke="rgb(0,204,0)" stroke-width="5" stroke-linecap="round" stroke-linejoin="round"/>
<ellipse cx="948" cy="960" rx="26" ry="12" fill="rgb(0,178,0)" transform="rotate(-20 948 960)"/>
<ellipse cx="1094" cy="1012" rx="27" ry="11" fill="rgb(0,153,0)"/>
<ellipse cx="1098" cy="1083" rx="19" ry="15" fill="rgb(0,166,0)"/>
<ellipse cx="990" cy="1022" rx="9" ry="17" fill="rgb(0,178,0)"/>
<ellipse cx="982" cy="797" rx="17" ry="9" fill="rgb(0,204,0)"/>
<ellipse cx="905" cy="856" rx="11" ry="17" fill="rgb(0,204,0)"/>
<ellipse cx="1160" cy="957" rx="10" ry="11" fill="rgb(0,204,0)"/>
<ellipse cx="1040" cy="800" rx="14" ry="8" fill="rgb(0,153,0)"/>
<ellipse cx="1120" cy="905" rx="16" ry="9" fill="rgb(0,153,0)"/>
<ellipse cx="1010" cy="930" rx="12" ry="8" fill="rgb(0,153,0)"/>
<ellipse cx="1200" cy="1010" rx="14" ry="9" fill="rgb(0,153,0)"/>
<ellipse cx="1250" cy="1075" rx="14" ry="10" fill="rgb(0,153,0)"/>
<ellipse cx="880" cy="1075" rx="6" ry="17" fill="rgb(0,178,0)"/>
<ellipse cx="1310" cy="1110" rx="12" ry="10" fill="rgb(0,178,0)"/>
<ellipse cx="700" cy="800" rx="12" ry="8" fill="rgb(0,153,0)"/>
<ellipse cx="620" cy="830" rx="13" ry="9" fill="rgb(0,153,0)"/>
<ellipse cx="690" cy="870" rx="10" ry="9" fill="rgb(0,153,0)"/>
<ellipse cx="560" cy="960" rx="16" ry="9" fill="rgb(0,178,0)"/>
<ellipse cx="650" cy="975" rx="12" ry="8" fill="rgb(0,153,0)"/>
<ellipse cx="660" cy="985" rx="20" ry="10" fill="rgb(0,128,0)"/>
<ellipse cx="800" cy="1010" rx="10" ry="8" fill="rgb(0,153,0)"/>
</g>
<g class="sc">
<ellipse cx="537" cy="699" rx="24" ry="18" fill="rgb(0,0,153)"/>
<ellipse cx="610" cy="687" rx="14" ry="16" fill="rgb(0,0,204)"/>
<ellipse cx="335" cy="536" rx="35" ry="9" fill="rgb(0,0,153)"/>
<ellipse cx="1122" cy="679" rx="58" ry="13" fill="rgb(0,0,178)"/>
<ellipse cx="1057" cy="648" rx="18" ry="12" fill="rgb(0,0,230)"/>
<ellipse cx="1213" cy="650" rx="23" ry="11" fill="rgb(0,0,204)"/>
<ellipse cx="755" cy="477" rx="12" ry="24" fill="rgb(0,0,178)"/>
<ellipse cx="249" cy="927" rx="17" ry="19" fill="rgb(0,0,153)"/>
<ellipse cx="170" cy="679" rx="20" ry="9" fill="rgb(0,0,178)"/>
<ellipse cx="185" cy="900" rx="20" ry="15" fill="rgb(0,0,128)"/>
<ellipse cx="790" cy="1030" rx="30" ry="35" fill="rgb(0,0,102)"/>
</g>
</g></g>
<g clip-path="url(#ca)"><path fill="#000" d="M188.18,400.21 166.78,409.29 166.97,406.17 155.73,415.5 170.25,413.9 167.87,411.87 189.27,402.79ZM226.57,400.15 206.7,405.74 207.29,402.67 194.95,410.5 209.57,410.75 207.46,408.44 227.33,402.85ZM264.88,400.13 245.19,404.44 245.96,401.41 233.18,408.5 247.75,409.61 245.79,407.18 265.48,402.87ZM303.19,400.12 283.64,403.17 284.59,400.19 271.4,406.5 285.88,408.49 284.07,405.94 303.62,402.88ZM341.5,400.11 321.05,401.96 322.19,399.05 308.63,404.5 322.95,407.42 321.3,404.75 341.76,402.89ZM379.76,400.1 357.32,401.71 358.52,398.81 344.85,404 359.12,407.19 357.52,404.5 379.95,402.9ZM418.01,400.1 392.59,401.44 393.84,398.57 380.08,403.5 394.28,406.96 392.74,404.24 418.15,402.9ZM456.09,400.12 429.55,404.2 430.51,401.22 417.31,407.5 431.78,409.52 429.97,406.97 456.52,402.88ZM494.14,400.16 462.22,409.59 462.77,406.51 450.53,414.5 465.15,414.56 463.01,412.27 494.93,402.84ZM532.36,400.16 494.42,411.54 494.96,408.45 482.76,416.5 497.37,416.5 495.23,414.22 533.16,402.84ZM570.49,400.19 533.28,414.24 533.6,411.13 521.98,420 536.56,418.98 534.27,416.86 571.48,402.81ZM608.63,400.23 572.08,416.98 572.19,413.85 561.21,423.5 575.69,421.48 573.25,419.52 609.79,402.77ZM646.84,400.23 608.24,418.37 608.32,415.24 597.44,425 611.89,422.85 609.43,420.91 648.03,402.77ZM685.05,400.24 644.41,419.78 644.46,416.65 633.66,426.5 648.1,424.22 645.62,422.3 686.27,402.76ZM723.27,400.24 683.58,419.7 683.61,416.57 672.89,426.5 687.31,424.11 684.82,422.21 724.5,402.76ZM761.55,400.22 722.61,417.18 722.77,414.06 711.61,423.5 726.13,421.76 723.72,419.75 762.67,402.78ZM799.84,400.19 761.62,414.72 761.93,411.6 750.34,420.5 764.92,419.45 762.61,417.33 800.84,402.81ZM838.05,400.2 801.76,414.56 802.04,411.44 790.56,420.5 805.13,419.25 802.8,417.16 839.08,402.8ZM876.28,400.2 842.01,413.6 842.3,410.49 830.79,419.5 845.36,418.31 843.03,416.21 877.3,402.8ZM914.58,400.17 880.56,411.26 881.02,408.17 869.02,416.5 883.63,416.15 881.43,413.92 915.45,402.83ZM952.88,400.15 917.04,409.85 917.66,406.79 905.24,414.5 919.85,414.89 917.77,412.56 953.61,402.85ZM991.13,400.14 955.35,409.09 956.03,406.03 943.47,413.5 958.07,414.18 956.03,411.8 991.81,402.86ZM1029.39,400.13 992.68,408.37 993.43,405.34 980.69,412.5 995.27,413.53 993.29,411.11 1030,402.87ZM1067.65,400.13 1029.01,407.7 1029.85,404.68 1016.92,411.5 1031.47,412.93 1029.55,410.45 1068.19,402.87ZM1105.91,400.12 1066.32,406.97 1067.22,403.97 1054.15,410.5 1068.66,412.25 1066.8,409.73 1106.38,402.88ZM1144.14,400.12 1104.57,406.71 1105.49,403.72 1092.37,410.17 1106.87,412.01 1105.03,409.48 1144.6,402.88ZM1182.38,400.12 1142.82,406.46 1143.76,403.47 1130.6,409.83 1145.08,411.77 1143.26,409.22 1182.82,402.88ZM1220.61,400.12 1181.06,406.2 1182.02,403.22 1168.82,409.5 1183.3,411.52 1181.49,408.97 1221.04,402.88ZM1258.82,400.12 1217.25,407.05 1218.17,404.06 1205.05,410.5 1219.55,412.34 1217.71,409.81 1259.28,402.88ZM1297.04,400.12 1255.47,407.05 1256.39,404.06 1243.27,410.5 1257.77,412.34 1255.93,409.81 1297.5,402.88ZM188.25,439.18 167.09,446.88 167.45,443.77 155.73,452.5 170.32,451.66 168.05,449.51 189.2,441.82ZM226.58,439.15 205.74,444.83 206.35,441.76 193.95,449.5 208.56,449.87 206.48,447.54 227.32,441.85ZM264.89,439.13 244.21,443.52 245,440.49 232.18,447.5 246.74,448.7 244.79,446.25 265.47,441.87ZM303.19,439.12 283.64,442.17 284.59,439.19 271.4,445.5 285.88,447.49 284.07,444.94 303.62,441.88ZM341.5,439.11 321.05,440.96 322.19,438.05 308.63,443.5 322.95,446.42 321.3,443.75 341.76,441.89ZM379.74,439.1 356.3,441.06 357.46,438.15 343.85,443.5 358.16,446.52 356.53,443.85 379.97,441.9ZM417.91,439.11 390.41,442.55 391.45,439.6 378.08,445.5 392.49,447.93 390.76,445.33 418.25,441.89ZM456.06,439.12 424.45,444.87 425.33,441.86 412.31,448.5 426.83,450.13 424.95,447.62 456.56,441.88ZM494.21,439.14 460.46,447.21 461.17,444.16 448.53,451.5 463.13,452.33 461.11,449.93 494.86,441.86ZM532.37,439.15 495.49,449.69 496.07,446.62 483.76,454.5 498.37,454.69 496.26,452.38 533.14,441.85ZM570.48,439.19 535.25,452.69 535.56,449.57 523.98,458.5 538.56,457.42 536.25,455.3 571.48,441.81ZM608.63,439.23 574.09,454.99 574.2,451.87 563.21,461.5 577.69,459.51 575.25,457.54 609.79,441.77ZM646.91,439.2 611.59,453.48 611.84,450.36 600.44,459.5 614.99,458.15 612.64,456.08 647.96,441.8ZM685.06,439.24 652.43,454.81 652.49,451.68 641.66,461.5 656.11,459.26 653.64,457.34 686.26,441.76ZM723.27,439.24 691.59,454.71 691.62,451.58 680.89,461.5 695.31,459.13 692.82,457.23 724.5,441.76ZM761.51,439.24 730.89,453.82 730.95,450.69 720.11,460.5 734.56,458.27 732.09,456.35 762.71,441.76ZM799.78,439.22 770.31,452.15 770.47,449.03 759.34,458.5 773.85,456.72 771.44,454.72 800.9,441.78ZM837.99,439.22 811.49,451.08 811.63,447.95 800.56,457.5 815.06,455.62 812.64,453.63 839.14,441.78ZM876.21,439.23 850.66,450.97 850.76,447.84 839.79,457.5 854.27,455.47 851.82,453.51 877.37,441.77ZM914.54,439.19 885.37,449.86 885.72,446.75 874.02,455.5 888.61,454.63 886.33,452.49 915.5,441.81ZM952.85,439.16 920.93,448.59 921.48,445.51 909.24,453.5 923.86,453.56 921.72,451.27 953.64,441.84ZM991.11,439.15 957.31,447.96 957.95,444.9 945.47,452.5 960.07,453.03 958.01,450.67 991.82,441.85ZM1029.39,439.13 992.68,447.37 993.43,444.34 980.69,451.5 995.27,452.53 993.29,450.11 1030,441.87ZM1067.65,439.13 1029.01,446.7 1029.85,443.68 1016.92,450.5 1031.47,451.93 1029.55,449.45 1068.19,441.87ZM1105.88,439.13 1069.25,446.23 1070.09,443.21 1057.15,450 1071.69,451.46 1069.78,448.98 1106.41,441.87ZM1144.13,439.12 1105.54,445.93 1106.43,442.93 1093.37,449.5 1107.89,451.2 1106.02,448.69 1144.61,441.88ZM1182.38,439.12 1142.84,445.2 1143.8,442.22 1130.6,448.5 1145.07,450.52 1143.26,447.97 1182.81,441.88ZM1220.62,439.12 1179.08,445.27 1180.06,442.29 1166.82,448.5 1181.29,450.6 1179.49,448.04 1221.03,441.88ZM1258.82,439.12 1217.25,446.05 1218.17,443.06 1205.05,449.5 1219.55,451.34 1217.71,448.81 1259.28,441.88ZM1297.02,439.12 1255.41,446.83 1256.28,443.82 1243.27,450.5 1257.8,452.08 1255.92,449.58 1297.53,441.88ZM188.33,478.16 166.42,484.6 166.97,481.52 154.73,489.5 169.34,489.58 167.21,487.29 189.12,480.84ZM226.62,478.14 205.87,483.17 206.57,480.12 193.95,487.5 208.55,488.28 206.53,485.89 227.28,480.86ZM264.94,478.12 242.36,481.99 243.27,478.99 230.18,485.5 244.69,487.27 242.83,484.75 265.41,480.88ZM303.23,478.11 283.73,480.55 284.77,477.6 271.4,483.5 285.82,485.93 284.08,483.33 303.58,480.89ZM341.43,478.11 319.89,481.28 320.87,478.31 307.63,484.5 322.09,486.62 320.3,484.05 341.83,480.89ZM379.64,478.12 354.08,482.15 355.03,479.17 341.85,485.5 356.34,487.47 354.52,484.92 380.07,480.88ZM417.83,478.12 386.23,483.87 387.1,480.86 374.08,487.5 388.61,489.13 386.73,486.62 418.33,480.88ZM456,478.13 424.28,485.34 425.03,482.3 412.31,489.5 426.89,490.49 424.9,488.07 456.62,480.87ZM494.15,478.15 464.26,486.69 464.84,483.62 452.53,491.5 467.15,491.69 465.03,489.38 494.92,480.85ZM532.33,478.17 500.34,488.35 500.83,485.25 488.76,493.5 503.37,493.26 501.19,491.01 533.18,480.83ZM570.5,478.19 536.32,490.82 536.66,487.71 524.98,496.5 539.57,495.59 537.29,493.45 571.47,480.81ZM608.65,478.22 574.21,493.19 574.37,490.07 563.21,499.5 577.72,497.77 575.32,495.76 609.77,480.78ZM646.9,478.21 616.53,490.86 616.74,487.74 605.44,497 619.97,495.49 617.6,493.45 647.97,480.79ZM685.09,478.22 656.58,491.05 656.7,487.92 645.66,497.5 660.15,495.58 657.73,493.61 686.24,480.78ZM723.33,478.22 696.89,489.7 697.06,486.57 685.89,496 700.4,494.28 698,492.27 724.44,480.78ZM761.57,478.21 736.17,488.96 736.37,485.84 725.11,495.17 739.64,493.58 737.26,491.54 762.66,480.79ZM799.8,478.21 775.43,488.36 775.65,485.24 764.34,494.5 778.88,492.99 776.51,490.95 800.88,480.79ZM838.03,478.21 813.66,488.36 813.87,485.24 802.56,494.5 817.1,492.99 814.73,490.95 839.1,480.79ZM876.25,478.21 851.88,488.36 852.1,485.24 840.79,494.5 855.33,492.99 852.96,490.95 877.33,480.79ZM914.52,478.19 887.81,488.25 888.14,485.14 876.52,494 891.1,493 888.8,490.87 915.51,480.81ZM952.78,478.18 924.67,488.02 925.07,484.91 913.24,493.5 927.84,492.84 925.6,490.66 953.7,480.82ZM991.07,478.16 961.14,487.06 961.69,483.98 949.47,492 964.08,492.03 961.94,489.75 991.87,480.84ZM1029.35,478.14 997.58,486.09 998.26,483.03 985.69,490.5 1000.29,491.18 998.26,488.8 1030.03,480.86ZM1067.6,478.14 1034.87,485.77 1035.6,482.73 1022.92,490 1037.51,490.91 1035.51,488.5 1068.24,480.86ZM1105.85,478.13 1072.16,485.46 1072.93,482.42 1060.15,489.5 1074.72,490.63 1072.75,488.19 1106.44,480.87ZM1144.09,478.13 1109.94,485.11 1110.75,482.08 1097.87,489 1112.43,490.31 1110.5,487.85 1144.65,480.87ZM1182.33,478.12 1147.71,484.76 1148.56,481.74 1135.6,488.5 1150.14,489.99 1148.24,487.51 1182.86,480.88ZM1220.54,478.13 1183.89,485.61 1184.7,482.59 1171.82,489.5 1186.38,490.82 1184.45,488.35 1221.1,480.87ZM1258.76,478.13 1219.09,486.52 1219.88,483.49 1207.05,490.5 1221.61,491.71 1219.67,489.26 1259.34,480.87ZM1296.97,478.13 1255.27,487.4 1256.03,484.36 1243.27,491.5 1257.85,492.56 1255.88,490.13 1297.58,480.87ZM188.33,517.16 166.42,523.6 166.97,520.52 154.73,528.5 169.34,528.58 167.21,526.29 189.12,519.84ZM226.61,517.14 204.82,522.7 205.48,519.64 192.95,527.17 207.56,527.78 205.51,525.41 227.3,519.86ZM264.88,517.13 243.2,521.81 243.98,518.78 231.18,525.83 245.75,526.99 243.79,524.55 265.47,519.87ZM303.16,517.12 281.57,520.93 282.46,517.93 269.4,524.5 283.92,526.2 282.05,523.69 303.65,519.88ZM341.37,517.12 316.26,521.81 317.12,518.8 304.13,525.5 318.66,527.06 316.77,524.56 341.89,519.88ZM379.58,517.13 353.95,522.19 354.78,519.17 341.85,526 356.4,527.41 354.49,524.93 380.13,519.87ZM417.8,517.13 391.63,522.57 392.43,519.54 379.58,526.5 394.14,527.76 392.2,525.31 418.37,519.87ZM455.97,517.14 427.22,524.15 427.91,521.1 415.31,528.5 429.9,529.26 427.88,526.87 456.64,519.86ZM494.14,517.16 464.75,525.66 465.31,522.58 453.03,530.5 467.65,530.65 465.53,528.34 494.92,519.84ZM532.32,517.17 503.53,526.71 503.98,523.61 492.01,532 506.62,531.58 504.41,529.37 533.2,519.83ZM570.49,517.19 542.29,527.76 542.62,524.65 530.98,533.5 545.57,532.52 543.27,530.39 571.48,519.81ZM608.66,517.21 579.25,529.77 579.44,526.64 568.21,536 582.73,534.37 580.35,532.34 609.76,519.79ZM646.88,517.22 621.44,528.21 621.62,525.09 610.44,534.5 624.95,532.8 622.56,530.78 647.99,519.78ZM685.14,517.2 661.84,526.52 662.1,523.4 650.66,532.5 665.22,531.2 662.88,529.12 686.18,519.8ZM723.41,517.18 702.25,524.88 702.61,521.77 690.89,530.5 705.48,529.66 703.21,527.51 724.37,519.82ZM761.65,517.18 741.02,524.48 741.41,521.37 729.61,530 744.21,529.29 741.96,527.12 762.58,519.82ZM799.88,517.18 779.8,524.08 780.21,520.98 768.34,529.5 782.94,528.92 780.71,526.73 800.79,519.82ZM838.08,517.19 816.38,525.28 816.71,522.17 805.06,531 819.65,530.04 817.36,527.91 839.05,519.81ZM876.27,517.2 852.97,526.52 853.23,523.4 841.79,532.5 856.35,531.2 854.01,529.12 877.31,519.8ZM914.51,517.2 890.25,526.63 890.54,523.51 879.02,532.5 893.59,531.34 891.27,529.24 915.52,519.8ZM952.8,517.17 925.75,526.19 926.2,523.09 914.24,531.5 928.85,531.06 926.64,528.84 953.68,519.83ZM991.07,517.16 962.17,525.62 962.72,522.54 950.47,530.5 965.08,530.6 962.95,528.3 991.86,519.84ZM1029.35,517.14 998.55,525.02 999.22,521.96 986.69,529.5 1001.3,530.1 999.25,527.73 1030.04,519.86ZM1067.61,517.13 1035.9,524.34 1036.64,521.3 1023.92,528.5 1038.5,529.49 1036.52,527.07 1068.23,519.87ZM1105.83,517.14 1075.1,524.28 1075.83,521.24 1063.15,528.5 1077.73,529.42 1075.73,527.01 1106.46,519.86ZM1144.05,517.14 1111.81,524.74 1112.53,521.7 1099.87,529 1114.46,529.87 1112.46,527.47 1144.69,519.86ZM1182.27,517.14 1148.53,525.21 1149.24,522.16 1136.6,529.5 1151.19,530.33 1149.18,527.93 1182.92,519.86ZM1220.48,517.14 1185.68,526.03 1186.35,522.97 1173.82,530.5 1188.43,531.11 1186.38,528.74 1221.17,519.86ZM1258.7,517.15 1220.89,526.97 1221.54,523.91 1209.05,531.5 1223.65,532.04 1221.6,529.68 1259.4,519.85ZM1296.92,517.14 1255.12,527.98 1255.77,524.92 1243.27,532.5 1257.88,533.05 1255.82,530.69 1297.63,519.86ZM188.33,556.16 166.42,562.6 166.97,559.52 154.73,567.5 169.34,567.58 167.21,565.29 189.12,558.84ZM226.59,556.15 203.77,562.23 204.4,559.17 191.95,566.83 206.56,567.28 204.49,564.94 227.31,558.85ZM264.85,556.14 241.1,561.86 241.81,558.81 229.18,566.17 243.77,566.97 241.76,564.58 265.51,558.86ZM303.11,556.13 278.42,561.47 279.2,558.44 266.4,565.5 280.97,566.65 279.01,564.21 303.7,558.87ZM341.32,556.13 316.11,561.85 316.85,558.81 304.13,566 318.71,567 316.73,564.58 341.94,558.87ZM379.53,556.14 353.79,562.23 354.51,559.19 341.85,566.5 356.45,567.36 354.44,564.96 380.18,558.86ZM417.75,556.14 391.48,562.62 392.17,559.57 379.58,567 394.18,567.72 392.15,565.34 418.42,558.86ZM455.96,556.14 429.16,563.01 429.82,559.95 417.31,567.5 431.91,568.09 429.86,565.73 456.65,558.86ZM494.13,556.16 468.21,563.89 468.75,560.81 456.53,568.83 471.15,568.86 469.01,566.57 494.93,558.84ZM532.3,556.18 507.23,564.76 507.64,561.66 495.76,570.17 510.36,569.61 508.13,567.41 533.21,558.82ZM570.48,556.2 546.22,565.63 546.51,562.51 534.98,571.5 549.55,570.34 547.23,568.24 571.49,558.8ZM608.67,556.21 584.3,566.36 584.52,563.24 573.21,572.5 587.75,570.99 585.38,568.95 609.75,558.79ZM646.91,556.2 625.57,564.93 625.8,561.81 614.44,571 628.98,569.59 626.63,567.52 647.97,558.8ZM685.14,556.2 666.84,563.52 667.1,560.4 655.66,569.5 670.22,568.2 667.88,566.12 686.18,558.8ZM723.4,556.19 707.19,562.26 707.52,559.15 695.89,568 710.47,567.02 708.18,564.89 724.38,558.81ZM761.68,556.17 745.68,561.31 746.16,558.22 734.11,566.5 748.73,566.21 746.54,563.98 762.54,558.83ZM799.95,556.15 784.07,560.69 784.65,557.62 772.34,565.5 786.95,565.69 784.84,563.38 800.72,558.85ZM838.14,556.17 820.63,561.81 821.1,558.71 809.06,567 823.68,566.71 821.49,564.47 838.99,558.83ZM876.32,556.18 857.2,562.97 857.58,559.86 845.79,568.5 860.39,567.78 858.13,565.61 877.26,558.82ZM914.59,556.17 894.08,562.79 894.55,559.7 882.52,568 897.13,567.69 894.94,565.46 915.45,558.83ZM952.85,556.16 930.93,562.6 931.49,559.52 919.24,567.5 933.86,567.58 931.72,565.29 953.64,558.84ZM991.12,556.15 966.81,562.47 967.46,559.41 954.97,567 969.57,567.54 967.51,565.18 991.82,558.85ZM1029.38,556.14 1002.66,562.3 1003.39,559.26 990.69,566.5 1005.28,567.44 1003.29,565.03 1030.01,558.86ZM1067.58,556.14 1039.32,563.12 1040,560.07 1027.42,567.5 1042.02,568.22 1039.99,565.84 1068.25,558.86ZM1105.79,556.15 1075.98,563.95 1076.62,560.89 1064.15,568.5 1078.75,569.02 1076.69,566.66 1106.5,558.85ZM1144.02,556.15 1112.21,564.46 1112.85,561.4 1100.37,569 1114.98,569.52 1112.92,567.17 1144.72,558.85ZM1182.24,556.15 1148.44,564.96 1149.08,561.9 1136.6,569.5 1151.2,570.03 1149.14,567.67 1182.95,558.85ZM1220.44,556.15 1186.57,565.73 1187.15,562.65 1174.82,570.5 1189.44,570.73 1187.33,568.42 1221.2,558.85ZM1258.67,556.15 1220.8,566.75 1221.4,563.68 1209.05,571.5 1223.66,571.77 1221.56,569.45 1259.43,558.85ZM1296.86,556.16 1256.91,568.46 1257.42,565.37 1245.27,573.5 1259.89,573.4 1257.73,571.13 1297.69,558.84ZM188.34,595.15 165.46,601.69 166.03,598.62 153.73,606.5 168.34,606.69 166.23,604.38 189.11,597.85ZM226.59,595.15 203.77,601.23 204.4,598.17 191.95,605.83 206.56,606.28 204.49,603.94 227.31,597.85ZM264.84,595.14 242.07,600.78 242.76,597.72 230.18,605.17 244.78,605.88 242.74,603.5 265.51,597.86ZM303.09,595.14 280.37,600.33 281.12,597.29 268.4,604.5 282.99,605.47 281,603.06 303.72,597.86ZM341.3,595.14 318.54,600.67 319.24,597.61 306.63,605 321.22,605.78 319.2,603.39 341.96,597.86ZM379.51,595.14 356.71,601.01 357.37,597.95 344.85,605.5 359.46,606.08 357.41,603.72 380.2,597.86ZM417.71,595.15 394.87,601.35 395.49,598.28 383.08,606 397.69,606.39 395.61,604.05 418.45,597.85ZM455.92,595.15 433.04,601.69 433.61,598.62 421.31,606.5 435.92,606.69 433.81,604.38 456.69,597.85ZM494.14,595.16 472.23,601.6 472.78,598.52 460.53,606.5 475.15,606.58 473.02,604.29 494.93,597.84ZM532.3,595.18 512.22,602.08 512.63,598.98 500.76,607.5 515.36,606.92 513.13,604.73 533.21,597.82ZM570.46,595.2 552.16,602.52 552.42,599.4 540.98,608.5 555.54,607.2 553.2,605.12 571.5,597.8ZM608.65,595.22 590.21,603.21 590.39,600.08 579.21,609.5 593.73,607.79 591.33,605.77 609.77,597.78ZM646.81,595.25 636.08,600.61 636.08,597.48 625.44,607.5 639.84,605 637.33,603.12 648.06,597.75ZM685.12,595.21 672.75,600.36 672.97,597.24 661.66,606.5 676.2,604.99 673.83,602.95 686.2,597.79ZM723.38,595.2 712.11,599.6 712.39,596.49 700.89,605.5 715.45,604.31 713.13,602.21 724.4,597.8ZM761.71,595.16 750.76,598.49 751.28,595.41 739.11,603.5 753.73,603.44 751.57,601.17 762.52,597.84ZM800.01,595.14 787.26,598.2 787.97,595.15 775.34,602.5 789.93,603.32 787.92,600.92 800.67,597.86ZM838.17,595.16 823.25,599.58 823.79,596.5 811.56,604.5 826.18,604.55 824.04,602.26 838.96,597.84ZM876.36,595.17 860.36,600.31 860.83,597.22 848.79,605.5 863.4,605.21 861.21,602.98 877.22,597.83ZM914.59,595.17 898.58,600.31 899.06,597.22 887.02,605.5 901.63,605.21 899.44,602.98 915.44,597.83ZM952.85,595.16 933.95,600.64 934.52,597.56 922.24,605.5 936.86,605.63 934.73,603.33 953.63,597.84ZM991.1,595.15 970.26,600.83 970.87,597.76 958.47,605.5 973.08,605.87 970.99,603.54 991.84,597.85ZM1029.35,595.14 1005.58,601.09 1006.26,598.03 993.69,605.5 1008.29,606.18 1006.26,603.8 1030.03,597.86ZM1067.62,595.13 1042.94,600.47 1043.72,597.44 1030.92,604.5 1045.49,605.65 1043.53,603.21 1068.22,597.87ZM1105.77,595.15 1077.92,602.81 1078.53,599.74 1066.15,607.5 1080.76,607.84 1078.67,605.51 1106.52,597.85ZM1143.93,595.17 1113.88,605.19 1114.32,602.09 1102.37,610.5 1116.98,610.06 1114.77,607.84 1144.81,597.83ZM1182.15,595.17 1150.07,606.11 1150.49,603.01 1138.6,611.5 1153.2,610.96 1150.97,608.76 1183.05,597.83ZM1220.38,595.17 1187.33,606.19 1187.78,603.09 1175.82,611.5 1190.43,611.06 1188.22,608.84 1221.27,597.83ZM1258.59,595.18 1221.49,608.05 1221.9,604.94 1210.05,613.5 1224.65,612.88 1222.41,610.69 1259.51,597.82ZM1296.81,595.18 1254.7,610 1255.09,606.89 1243.27,615.5 1257.87,614.82 1255.62,612.64 1297.74,597.82ZM188.34,634.15 165.46,640.69 166.03,637.62 153.73,645.5 168.34,645.69 166.23,643.38 189.11,636.85ZM226.6,634.14 204.13,639.98 204.78,636.92 192.28,644.5 206.89,645.05 204.83,642.69 227.3,636.86ZM264.86,634.14 242.8,639.28 243.53,636.23 230.84,643.5 245.43,644.41 243.43,642 265.5,636.86ZM303.12,634.13 281.46,638.59 282.27,635.56 269.4,642.5 283.96,643.79 282.03,641.33 303.69,636.87ZM341.35,634.13 321.21,638.16 322.03,635.14 309.13,642 323.68,643.37 321.76,640.9 341.9,636.87ZM379.56,634.13 359.38,638.48 360.16,635.45 347.35,642.5 361.93,643.66 359.97,641.22 380.15,636.87ZM417.77,634.14 397.54,638.8 398.28,635.76 385.58,643 400.17,643.94 398.17,641.53 418.4,636.86ZM455.93,634.15 436.06,639.74 436.65,636.67 424.31,644.5 438.92,644.75 436.81,642.44 456.69,636.85ZM494.12,634.16 475.65,639.92 476.15,636.83 464.03,645 478.65,644.85 476.48,642.59 494.95,636.84ZM532.3,634.18 515.21,640.07 515.62,636.97 503.76,645.5 518.36,644.91 516.13,642.72 533.21,636.82ZM570.46,634.2 557.16,639.52 557.42,636.4 545.98,645.5 560.54,644.2 558.2,642.12 571.5,636.8ZM608.63,634.23 596.08,639.98 596.19,636.85 585.21,646.5 599.69,644.48 597.25,642.52 609.79,636.77ZM646.86,634.23 636.33,639.01 636.44,635.88 625.44,645.5 639.92,643.53 637.49,641.56 648.01,636.77ZM685.09,634.22 676.58,638.05 676.7,634.92 665.66,644.5 680.15,642.58 677.73,640.61 686.24,636.78ZM723.37,634.2 716.09,637.07 716.37,633.95 704.89,643 719.45,641.77 717.12,639.68 724.4,636.8ZM761.77,634.14 754.47,636.01 755.13,632.95 742.61,640.5 757.22,641.09 755.17,638.73 762.46,636.86ZM800.01,634.14 791.27,636.22 791.99,633.17 779.34,640.5 793.93,641.34 791.92,638.94 800.66,636.86ZM838.18,634.15 827.31,637.23 827.89,634.15 815.56,642 830.18,642.23 828.07,639.92 838.95,636.85ZM876.36,634.17 863.36,638.33 863.84,635.23 851.79,643.5 866.4,643.23 864.22,640.99 877.22,636.83ZM914.59,634.17 901.59,638.33 902.07,635.23 890.02,643.5 904.63,643.23 902.44,640.99 915.44,636.83ZM952.78,634.18 938.69,639.06 939.1,635.95 927.24,644.5 941.85,643.89 939.61,641.7 953.7,636.82ZM991.08,634.15 973.69,639.17 974.26,636.09 961.97,644 976.58,644.16 974.46,641.86 991.86,636.85ZM1029.36,634.14 1008.61,639.17 1009.31,636.12 996.69,643.5 1011.29,644.28 1009.27,641.89 1030.02,636.86ZM1067.58,634.14 1043.32,640.12 1044.01,637.07 1031.42,644.5 1046.02,645.23 1043.99,642.84 1068.25,636.86ZM1105.81,634.14 1078.03,641.09 1078.71,638.03 1066.15,645.5 1080.75,646.18 1078.71,643.8 1106.48,636.86ZM1143.95,634.17 1114.96,643.36 1115.45,640.27 1103.37,648.5 1117.99,648.27 1115.8,646.03 1144.79,636.83ZM1182.1,634.19 1151.87,645.71 1152.18,642.59 1140.6,651.5 1155.17,650.44 1152.87,648.32 1183.1,636.81ZM1220.3,634.2 1187,647.52 1187.26,644.4 1175.82,653.5 1190.38,652.2 1188.04,650.12 1221.34,636.8ZM1258.52,634.2 1221.19,649.44 1221.42,646.32 1210.05,655.5 1224.6,654.1 1222.24,652.03 1259.58,636.8ZM1296.75,634.2 1256.43,650.48 1256.68,647.36 1245.27,656.5 1259.83,655.15 1257.48,653.08 1297.8,636.8ZM188.32,673.16 167.38,679.51 167.91,676.42 155.73,684.5 170.34,684.46 168.19,682.19 189.13,675.84ZM226.62,673.14 205.87,678.17 206.57,675.12 193.95,682.5 208.55,683.28 206.53,680.89 227.28,675.86ZM264.87,673.13 246.16,677.36 246.91,674.32 234.18,681.5 248.76,682.51 246.78,680.09 265.49,675.87ZM303.13,673.13 285.48,676.66 286.31,673.64 273.4,680.5 287.96,681.87 286.03,679.4 303.68,675.87ZM341.4,673.12 323.83,676.05 324.75,673.06 311.63,679.5 326.13,681.34 324.29,678.81 341.86,675.88ZM379.62,673.12 362.05,676.05 362.97,673.06 349.85,679.5 364.35,681.34 362.51,678.81 380.08,675.88ZM417.83,673.12 402.24,675.91 403.12,672.9 390.08,679.5 404.6,681.17 402.73,678.66 418.33,675.88ZM456.06,673.12 440.46,675.91 441.35,672.9 428.31,679.5 442.83,681.17 440.96,678.66 456.55,675.88ZM494.21,673.14 481.46,676.2 482.17,673.15 469.53,680.5 484.13,681.32 482.11,678.92 494.86,675.86ZM532.34,673.16 521.87,676.42 522.38,673.33 510.26,681.5 524.87,681.35 522.71,679.09 533.17,675.84ZM570.46,673.2 562.16,676.52 562.42,673.4 550.98,682.5 565.54,681.2 563.2,679.12 571.5,675.8ZM608.7,673.2 601.42,676.07 601.69,672.95 590.21,682 604.77,680.77 602.44,678.68 609.72,675.8ZM646.84,673.23 641.24,675.87 641.31,672.74 630.44,682.5 644.89,680.34 642.43,678.4 648.03,675.77ZM685.1,673.22 680.64,675.17 680.8,672.04 669.66,681.5 684.17,679.74 681.77,677.73 686.22,675.78ZM723.37,673.2 720.07,674.52 720.33,671.4 708.89,680.5 723.45,679.2 721.11,677.12 724.41,675.8ZM761.85,673.12 758.24,673.8 759.1,670.79 746.11,677.5 760.65,679.05 758.76,676.55 762.37,675.88ZM800.11,673.12 794.54,674.05 795.46,671.06 782.34,677.5 796.84,679.34 795,676.81 800.57,675.88ZM838.2,673.15 828.35,675.83 828.97,672.76 816.56,680.5 831.18,680.87 829.09,678.54 838.93,675.85ZM876.38,673.16 865.44,676.49 865.96,673.41 853.79,681.5 868.41,681.44 866.25,679.17 877.2,675.84ZM914.59,673.17 904.6,676.35 905.08,673.25 893.02,681.5 907.63,681.26 905.45,679.01 915.44,675.83ZM952.8,673.17 940.75,677.19 941.2,674.09 929.24,682.5 943.85,682.06 941.64,679.84 953.68,675.83ZM991.08,673.16 975.68,677.64 976.24,674.56 963.97,682.5 978.58,682.62 976.46,680.32 991.86,675.84ZM1029.34,673.14 1010.54,678 1011.2,674.93 998.69,682.5 1013.3,683.07 1011.24,680.71 1030.04,675.86ZM1067.56,673.15 1044.23,679.39 1044.86,676.32 1032.42,684 1047.03,684.44 1044.95,682.1 1068.28,675.85ZM1105.77,673.15 1077.92,680.81 1078.53,677.74 1066.15,685.5 1080.76,685.84 1078.67,683.51 1106.52,675.85ZM1143.93,673.17 1113.88,683.19 1114.32,680.09 1102.37,688.5 1116.98,688.06 1114.77,685.84 1144.81,675.83ZM1182.09,673.19 1149.85,685.65 1150.14,682.54 1138.6,691.5 1153.17,690.37 1150.85,688.26 1183.1,675.81ZM1220.29,673.21 1185.93,687.4 1186.16,684.27 1174.82,693.5 1189.37,692.04 1187,689.98 1221.36,675.79ZM1258.49,673.22 1222.03,689.17 1222.19,686.04 1211.05,695.5 1225.56,693.74 1223.15,691.73 1259.61,675.78ZM1296.71,673.22 1258.24,690.14 1258.4,687.02 1247.27,696.5 1261.78,694.71 1259.37,692.71 1297.84,675.78ZM188.3,712.17 172.29,717.31 172.77,714.22 160.73,722.5 175.34,722.21 173.15,719.98 189.15,714.83ZM226.61,712.14 210.84,716.09 211.51,713.03 198.95,720.5 213.55,721.18 211.51,718.8 227.29,714.86ZM264.91,712.13 251.29,714.75 252.13,711.73 239.18,718.5 253.72,719.98 251.82,717.5 265.44,714.87ZM303.24,712.11 289.76,713.66 290.83,710.72 277.4,716.5 291.79,719.07 290.08,716.45 303.56,714.89ZM341.47,712.11 327.99,713.66 329.06,710.72 315.63,716.5 330.02,719.07 328.31,716.45 341.79,714.89ZM379.69,712.11 366.21,713.66 367.28,710.72 353.85,716.5 368.24,719.07 366.53,716.45 380.02,714.89ZM417.92,712.11 404.44,713.66 405.51,710.72 392.08,716.5 406.47,719.07 404.76,716.45 418.24,714.89ZM456.12,712.11 446.6,713.41 447.61,710.45 434.31,716.5 448.75,718.77 446.98,716.18 456.5,714.89ZM494.33,712.11 485.81,713.33 486.8,710.36 473.53,716.5 487.99,718.68 486.2,716.1 494.73,714.89ZM532.54,712.12 525.99,713.15 526.93,710.17 513.76,716.5 528.24,718.47 526.42,715.92 532.98,714.88ZM570.66,712.14 565.93,713.25 566.65,710.21 553.98,717.5 568.57,718.38 566.57,715.98 571.3,714.86ZM608.83,712.15 606.94,712.69 607.52,709.62 595.21,717.5 609.82,717.69 607.71,715.38 609.59,714.85ZM646.96,712.18 644.83,712.94 645.21,709.84 633.44,718.5 648.03,717.75 645.77,715.58 647.91,714.82ZM685.16,712.3 683.96,712.8 684.16,709.9 673.66,718.5 687.16,717.1 684.96,715.2 686.16,714.7ZM723.49,712.3 722.29,712.7 722.69,709.9 711.89,717.5 725.09,717.1 723.09,715.1 724.29,714.7ZM761.81,712.3 760.61,712.6 761.21,709.9 750.11,716.5 763.01,717.1 761.21,715 762.41,714.7ZM800.06,712.13 797.42,712.66 798.24,709.64 785.34,716.5 799.89,717.87 797.97,715.4 800.61,714.87ZM838.26,712.13 832.56,713.4 833.32,710.36 820.56,717.5 835.14,718.56 833.17,716.13 838.87,714.87ZM876.39,712.16 868.46,714.54 868.99,711.45 856.79,719.5 871.41,719.5 869.26,717.22 877.19,714.84ZM914.63,712.15 905.75,714.69 906.32,711.62 894.02,719.5 908.63,719.69 906.52,717.38 915.4,714.85ZM952.85,712.16 940.95,715.63 941.51,712.55 929.24,720.5 943.86,720.61 941.73,718.32 953.63,714.84ZM991.1,712.15 974.24,716.8 974.85,713.73 962.47,721.5 977.08,721.83 974.99,719.5 991.84,714.85ZM1029.3,712.16 1007.39,718.6 1007.94,715.52 995.69,723.5 1010.31,723.58 1008.18,721.29 1030.09,714.84ZM1067.49,712.17 1042.47,720.28 1042.94,717.19 1030.92,725.5 1045.53,725.18 1043.34,722.94 1068.35,714.83ZM1105.71,712.17 1077.7,721.27 1078.16,718.18 1066.15,726.5 1080.76,726.17 1078.56,723.94 1106.58,714.83ZM1143.9,712.18 1113.77,722.94 1114.14,719.84 1102.37,728.5 1116.97,727.75 1114.71,725.58 1144.84,714.82ZM1182.09,712.19 1149.85,724.65 1150.14,721.54 1138.6,730.5 1153.17,729.37 1150.85,727.26 1183.1,714.81ZM1220.29,712.2 1187.95,725.43 1188.19,722.31 1176.82,731.5 1191.37,730.09 1189.01,728.02 1221.35,714.8ZM1258.49,712.21 1226.06,726.22 1226.24,723.09 1215.05,732.5 1229.57,730.81 1227.17,728.79 1259.6,714.79ZM1296.66,712.24 1264.98,727.71 1265.01,724.58 1254.27,734.5 1268.7,732.13 1266.21,730.23 1297.89,714.76ZM188.22,751.19 173.98,756.67 174.28,753.55 162.73,762.5 177.3,761.39 174.99,759.28 189.23,753.81ZM226.62,751.14 213.88,754.2 214.58,751.15 201.95,758.5 216.55,759.32 214.53,756.92 227.28,753.86ZM264.96,751.12 252.4,753.13 253.34,750.14 240.18,756.5 254.67,758.44 252.84,755.89 265.4,753.88ZM303.28,751.11 292.83,752.01 293.99,749.1 280.4,754.5 294.71,757.47 293.08,754.8 303.52,753.89ZM341.56,751.1 333.15,751.5 334.41,748.64 320.63,753.5 334.81,757.03 333.28,754.3 341.7,753.9ZM379.79,751.1 371.37,751.5 372.64,748.64 358.85,753.5 373.04,757.03 371.51,754.3 379.92,753.9ZM418.01,751.1 411.59,751.44 412.84,748.57 399.08,753.5 413.28,756.96 411.74,754.24 418.15,753.9ZM456.23,751.1 450.81,751.4 452.05,748.53 438.31,753.5 452.52,756.92 450.96,754.2 456.38,753.9ZM494.36,751.11 490.86,751.55 491.9,748.6 478.53,754.5 492.95,756.93 491.21,754.33 494.71,753.89ZM532.46,751.13 530.79,751.49 531.57,748.46 518.76,755.5 533.33,756.67 531.37,754.23 533.05,753.87ZM570.58,751.3 569.38,751.7 569.78,748.9 558.98,756.5 572.18,756.1 570.18,754.1 571.38,753.7ZM608.81,751.5 607.81,751.9 608.01,749.5 599.21,756.5 610.41,755.5 608.61,753.9 609.61,753.5ZM646.94,751.5 645.94,752 645.94,749.5 637.44,757.5 648.94,755.5 646.94,754 647.94,753.5ZM685.16,751.6 684.26,752.1 684.16,749.8 676.66,757.5 687.16,755.2 685.26,753.9 686.16,753.4ZM723.49,751.7 722.69,752.1 722.69,750.1 715.89,756.5 725.09,754.9 723.49,753.7 724.29,753.3ZM761.71,751.6 760.81,752 760.91,749.8 753.11,756.5 763.31,755.2 761.61,753.8 762.51,753.4ZM799.94,751.3 798.74,751.7 799.14,748.9 788.34,756.5 801.54,756.1 799.54,754.1 800.74,753.7ZM838.12,751.17 835.08,752.19 835.52,749.09 823.56,757.5 838.17,757.06 835.96,754.84 839.01,753.83ZM876.35,751.17 870.3,753.19 870.74,750.09 858.79,758.5 873.4,758.06 871.19,755.84 877.23,753.83ZM914.52,751.19 905.29,754.71 905.6,751.59 894.02,760.5 908.59,759.44 906.29,757.32 915.51,753.81ZM952.75,751.19 940.55,755.76 940.88,752.65 929.24,761.5 943.83,760.52 941.53,758.39 953.73,753.81ZM990.96,751.2 974.68,757.59 974.96,754.47 963.47,763.5 978.03,762.29 975.71,760.2 991.98,753.8ZM1029.19,751.19 1009.94,758.65 1010.23,755.53 998.69,764.5 1013.27,763.36 1010.95,761.26 1030.2,753.81ZM1067.39,751.21 1045.04,760.41 1045.27,757.29 1033.92,766.5 1048.46,765.05 1046.1,763 1068.45,753.79ZM1105.58,751.22 1085.13,760.17 1085.29,757.04 1074.15,766.5 1088.65,764.74 1086.25,762.73 1106.71,753.78ZM1143.81,751.22 1121.33,761.13 1121.48,758.01 1110.37,767.5 1124.88,765.69 1122.46,763.7 1144.94,753.78ZM1182,751.23 1159.4,761.87 1159.48,758.74 1148.6,768.5 1163.05,766.34 1160.59,764.4 1183.19,753.77ZM1220.17,751.26 1199.29,762.35 1199.22,759.22 1188.82,769.5 1203.16,766.64 1200.61,764.83 1221.48,753.74ZM1258.39,751.26 1235.53,763.37 1235.46,760.24 1225.05,770.5 1239.39,767.66 1236.84,765.84 1259.7,753.74ZM1296.63,751.25 1272.84,763.49 1272.8,760.36 1262.27,770.5 1276.65,767.83 1274.12,765.98 1297.91,753.75ZM188.19,790.2 178.15,794.32 178.38,791.2 167.03,800.4 181.57,798.97 179.21,796.91 189.26,792.8ZM226.57,790.15 217.68,792.69 218.26,789.62 205.95,797.5 220.57,797.69 218.45,795.38 227.34,792.85ZM264.95,790.12 256.38,791.55 257.3,788.56 244.18,795 258.68,796.84 256.84,794.31 265.41,792.88ZM303.33,790.1 295.52,790.48 296.78,787.62 283,792.5 297.19,796.01 295.66,793.28 303.47,792.9ZM341.63,790.1 335.23,790.1 336.63,787.3 322.63,791.5 336.63,795.7 335.23,792.9 341.63,792.9ZM379.89,790.1 374.49,789.95 375.97,787.19 361.85,791 375.73,795.59 374.41,792.75 379.82,792.9ZM418.12,790.1 413.72,789.97 415.2,787.21 401.08,791 414.95,795.61 413.63,792.77 418.04,792.9ZM456.31,790.1 454.41,790.1 455.81,787.3 441.81,791.5 455.81,795.7 454.41,792.9 456.31,792.9ZM494.43,790.25 493.18,790.35 494.23,787.75 482.03,792.5 494.83,795.25 493.38,792.85 494.63,792.75ZM532.61,790.32 531.43,790.47 532.31,787.96 520.96,793 533.21,795.04 531.73,792.83 532.91,792.68ZM570.68,790.5 569.68,790.8 570.08,788.5 560.98,794.5 571.88,794.5 570.28,792.8 571.28,792.5ZM608.76,790.68 607.94,791.13 607.86,789.04 601.01,796 610.56,793.96 608.84,792.77 609.66,792.32ZM647.04,790.86 646.4,791.26 646.24,789.58 641.04,795.5 648.64,793.42 647.2,792.54 647.84,792.14ZM685.26,790.94 684.7,791.34 684.46,789.82 680.06,795.5 686.86,793.18 685.5,792.46 686.06,792.06ZM723.59,791.1 723.19,791.4 722.99,790.3 719.89,794.5 724.79,792.7 723.79,792.2 724.19,791.9ZM761.71,791 761.21,791.4 760.91,790 757.11,795.5 763.31,793 762.01,792.4 762.51,792ZM799.74,790.6 798.84,791.2 798.54,788.8 791.34,797.5 802.14,794.2 800.04,793 800.94,792.4ZM837.83,790.31 835.56,791.7 835.29,788.59 825.56,799.5 839.69,795.74 837.03,794.09 839.3,792.69ZM876.1,790.28 871.09,793.1 870.93,789.98 860.79,800.5 875.05,797.3 872.46,795.54 877.48,792.72ZM914.36,790.26 906.51,794.39 906.45,791.26 896.02,801.5 910.36,798.7 907.82,796.87 915.67,792.74ZM952.59,790.26 942.75,795.41 942.69,792.28 932.24,802.5 946.59,799.72 944.05,797.89 953.89,792.74ZM990.84,790.25 978.11,796.61 978.11,793.48 967.47,803.5 981.87,801 979.36,799.12 992.09,792.75ZM1029.01,790.28 1013.03,799.16 1012.89,796.03 1002.69,806.5 1016.97,803.37 1014.39,801.6 1030.37,792.72ZM1067.21,790.3 1051.05,799.87 1050.82,796.75 1040.92,807.5 1055.1,803.98 1052.47,802.28 1068.63,792.7ZM1105.45,790.28 1088.39,800.03 1088.22,796.91 1078.15,807.5 1092.38,804.2 1089.78,802.46 1106.84,792.72ZM1143.68,790.28 1126.62,800.03 1126.44,796.91 1116.37,807.5 1130.61,804.2 1128.01,802.46 1145.07,792.72ZM1181.92,790.27 1163.95,800.19 1163.83,797.06 1153.6,807.5 1167.88,804.41 1165.31,802.64 1183.27,792.73ZM1220.1,790.3 1200.91,801.82 1200.67,798.7 1190.82,809.5 1204.99,805.9 1202.35,804.22 1221.54,792.7ZM1258.27,790.34 1238.76,803.35 1238.37,800.24 1229.05,811.5 1243.03,807.23 1240.31,805.68 1259.82,792.66ZM1296.53,790.31 1275.22,803.63 1274.92,800.52 1265.27,811.5 1279.37,807.64 1276.7,806.01 1298.02,792.69ZM188.12,829.24 180.77,832.77 180.82,829.64 170.03,839.5 184.46,837.21 181.99,835.3 189.33,831.76ZM226.5,829.18 221.01,831.07 221.42,827.97 209.55,836.5 224.16,835.91 221.92,833.72 227.41,831.82ZM264.93,829.12 260.54,829.91 261.42,826.9 248.38,833.5 262.9,835.17 261.03,832.66 265.42,831.88ZM303.36,829.1 299.55,829.22 300.87,826.38 287,831 301.12,834.77 299.64,832.02 303.45,831.9ZM341.76,829.11 338.71,828.81 340.37,826.16 326.03,829 339.56,834.52 338.44,831.6 341.5,831.89ZM380.04,829.11 377.73,828.8 379.49,826.21 365.05,828.5 378.37,834.54 377.35,831.57 379.67,831.89ZM418.28,829.11 416.75,828.9 418.53,826.32 404.08,828.5 417.35,834.64 416.36,831.67 417.88,831.89ZM456.46,829.25 455.21,829.1 456.76,826.75 443.81,829 455.86,834.25 454.91,831.6 456.16,831.75ZM494.63,829.35 493.48,829.25 494.83,827.05 483.03,829.5 494.23,833.95 493.28,831.55 494.43,831.65ZM532.81,829.42 531.73,829.37 532.91,827.26 521.96,830 532.61,833.74 531.63,831.53 532.71,831.58ZM570.78,829.6 569.88,829.8 570.38,827.8 561.98,832.5 571.58,833.2 570.28,831.6 571.18,831.4ZM608.86,829.78 608.14,830.13 608.16,828.34 602.01,834 610.26,832.66 608.84,831.57 609.56,831.22ZM647.09,829.96 646.55,830.31 646.39,828.88 642.04,834 648.49,832.12 647.25,831.39 647.79,831.04ZM685.26,830.04 684.8,830.44 684.46,829.12 681.06,834.5 686.86,831.88 685.6,831.36 686.06,830.96ZM723.39,830 722.89,830.5 722.39,829 718.89,835.5 725.39,832 723.89,831.5 724.39,831ZM761.51,829.9 760.91,830.5 760.31,828.7 756.11,836.5 763.91,832.3 762.11,831.7 762.71,831.1ZM799.64,829.7 798.84,830.4 798.24,828.1 792.34,837.5 802.44,832.9 800.24,832 801.04,831.3ZM837.76,829.4 836.66,830.2 836.16,827.2 827.56,838.5 840.96,833.8 838.26,832.4 839.36,831.6ZM875.94,829.39 872.92,831.71 872.33,828.64 863.79,840.5 877.45,835.29 874.63,833.93 877.64,831.61ZM914.22,829.35 908.61,833.21 908.17,830.11 899.02,841.5 912.93,837.03 910.19,835.52 915.81,831.65ZM952.42,829.37 944.64,834.99 944.13,831.9 935.24,843.5 949.05,838.71 946.28,837.26 954.06,831.63ZM990.69,829.34 980.17,836.35 979.79,833.24 970.47,844.5 984.45,840.23 981.73,838.68 992.24,831.66ZM1028.89,829.35 1016.24,838.16 1015.79,835.06 1006.69,846.5 1020.58,841.95 1017.84,840.45 1030.49,831.65ZM1067.06,829.39 1055.03,838.69 1054.43,835.62 1045.92,847.5 1059.57,842.26 1056.75,840.9 1068.78,831.61ZM1105.31,829.37 1092.45,838.88 1091.91,835.8 1083.15,847.5 1096.9,842.56 1094.11,841.14 1106.98,831.63ZM1143.56,829.36 1129.84,839.07 1129.37,835.98 1120.37,847.5 1134.22,842.84 1131.46,841.36 1145.18,831.64ZM1181.81,829.34 1167.23,839.26 1166.81,836.15 1157.6,847.5 1171.54,843.1 1168.8,841.57 1183.38,831.66ZM1220.02,829.36 1203.32,841.1 1202.85,838.01 1193.82,849.5 1207.69,844.88 1204.93,843.39 1221.63,831.64ZM1258.21,829.38 1240.29,842.82 1239.73,839.74 1231.05,851.5 1244.77,846.46 1241.97,845.06 1259.89,831.62ZM1296.48,829.35 1277.85,842.19 1277.41,839.09 1268.27,850.5 1282.18,846.01 1279.44,844.5 1298.07,831.65ZM188.03,868.29 184.23,870.48 184.04,867.36 174.03,878 188.25,874.63 185.63,872.9 189.43,870.71ZM226.44,868.2 224.17,869.09 224.45,865.97 212.95,875 227.52,873.79 225.19,871.7 227.46,870.8ZM264.93,868.18 263.61,868.43 264.43,865.54 251.98,872 265.93,873.46 264.11,871.07 265.43,870.82ZM303.4,868.26 302.16,868.26 303.4,865.78 291,869.5 303.4,873.22 302.16,870.74 303.4,870.74ZM341.78,868.24 340.52,868.09 342.08,865.72 329.03,868 341.18,873.28 340.22,870.61 341.48,870.76ZM380.05,868.28 378.83,868.08 380.45,865.84 367.65,867.5 379.25,873.16 378.43,870.52 379.65,870.72ZM418.28,868.36 417.14,868.16 418.68,866.08 406.68,867.5 417.48,872.92 416.74,870.44 417.88,870.64ZM456.36,868.45 455.31,868.4 456.46,866.35 445.81,869 456.16,872.65 455.21,870.5 456.26,870.55ZM494.68,868.5 493.68,868.35 494.98,866.5 484.53,868 494.08,872.5 493.38,870.35 494.38,870.5ZM532.86,868.46 531.82,868.36 533.06,866.38 522.36,868.5 532.46,872.62 531.62,870.44 532.66,870.54ZM570.88,868.64 570.02,868.74 570.68,866.92 562.38,870.5 571.28,872.08 570.22,870.46 571.08,870.36ZM608.91,868.82 608.23,869.12 608.31,867.46 602.41,872.5 610.11,871.54 608.83,870.48 609.51,870.18ZM647.04,868.92 646.46,869.32 646.24,867.76 641.64,873.5 648.64,871.24 647.26,870.48 647.84,870.08ZM685.16,869.04 684.7,869.54 684.16,868.12 681.06,874.5 687.16,870.88 685.7,870.46 686.16,869.96ZM723.24,869 722.74,869.65 721.94,868 718.89,876 725.84,871 724.04,870.65 724.54,870ZM761.31,868.9 760.71,869.7 759.71,867.7 756.11,877.5 764.51,871.3 762.31,870.9 762.91,870.1ZM799.34,868.8 798.64,869.8 797.34,867.4 793.34,879.5 803.34,871.6 800.64,871.2 801.34,870.2ZM837.53,868.56 836,870.24 834.87,867.32 828.56,880.5 841.09,872.97 838.08,872.12 839.6,870.44ZM875.8,868.51 873.71,870.6 872.72,867.63 865.79,880.5 878.66,873.57 875.69,872.58 877.78,870.49ZM914.11,868.43 910.73,871.29 909.99,868.25 902.02,880.5 915.42,874.66 912.54,873.43 915.92,870.57ZM952.33,868.44 947.9,872.24 947.14,869.2 939.24,881.5 952.6,875.58 949.72,874.36 954.15,870.56ZM990.56,868.44 986.12,872.24 985.36,869.2 977.47,881.5 990.83,875.58 987.95,874.36 992.38,870.56ZM1028.74,868.47 1023.97,872.9 1023.09,869.9 1015.69,882.5 1028.81,876.05 1025.88,874.95 1030.65,870.53ZM1066.97,868.47 1062.2,872.9 1061.32,869.9 1053.92,882.5 1067.04,876.05 1064.11,874.95 1068.87,870.53ZM1105.19,868.47 1100.43,872.9 1099.55,869.9 1092.15,882.5 1105.26,876.05 1102.33,874.95 1107.1,870.53ZM1143.41,868.48 1135.59,875.84 1134.69,872.85 1127.37,885.5 1140.44,878.96 1137.51,877.88 1145.33,870.52ZM1181.63,868.48 1171.78,877.82 1170.87,874.82 1163.6,887.5 1176.65,880.92 1173.71,879.85 1183.56,870.52ZM1219.88,868.46 1207.2,879.99 1206.36,876.97 1198.82,889.5 1212.01,883.19 1209.09,882.06 1221.76,870.54ZM1258.13,868.45 1243.61,881.15 1242.82,878.12 1235.05,890.5 1248.35,884.44 1245.45,883.26 1259.97,870.55ZM1296.38,868.42 1282.06,880.36 1281.34,877.31 1273.27,889.5 1286.72,883.76 1283.85,882.51 1298.17,870.58ZM187.88,907.43 186.81,908.28 186.18,905.29 178.03,917 191.28,911.71 188.51,910.42 189.58,909.57ZM226.45,907.44 225.39,907.94 225.45,905.32 216.35,913.5 228.45,911.68 226.39,910.06 227.45,909.56ZM264.93,907.54 263.97,907.79 264.43,905.62 255.58,911 265.93,911.38 264.47,909.71 265.43,909.46ZM303.4,907.6 302.5,907.6 303.4,905.8 294.4,908.5 303.4,911.2 302.5,909.4 303.4,909.4ZM341.78,907.64 340.92,907.49 342.08,905.92 333.03,907 341.18,911.08 340.62,909.21 341.48,909.36ZM380,907.68 379.18,907.53 380.3,906.04 371.65,907 379.4,910.96 378.88,909.17 379.7,909.32ZM418.25,907.7 417.45,907.53 418.59,906.1 410.08,906.8 417.57,910.9 417.11,909.13 417.91,909.3ZM456.46,907.87 455.83,907.72 456.76,906.61 450.01,907 455.86,910.39 455.53,908.98 456.16,909.13ZM494.68,907.7 493.88,907.55 494.98,906.1 486.53,907 494.08,910.9 493.58,909.15 494.38,909.3ZM532.91,907.66 532.07,907.51 533.21,905.98 524.36,907 532.31,911.02 531.77,909.19 532.61,909.34ZM571.03,907.8 570.33,907.75 571.13,906.4 563.98,908 570.83,910.6 570.23,909.15 570.93,909.2ZM609.01,907.82 608.33,908.02 608.61,906.46 602.41,910.5 609.81,910.54 608.73,909.38 609.41,909.18ZM647.14,907.86 646.5,908.16 646.54,906.58 641.04,911.5 648.34,910.42 647.1,909.44 647.74,909.14ZM685.21,907.94 684.65,908.39 684.31,906.82 680.06,913 687.01,910.18 685.55,909.51 686.11,909.06ZM723.24,908 722.74,908.65 721.94,907 718.89,915 725.84,910 724.04,909.65 724.54,909ZM761.11,908.1 760.71,909.1 759.11,907.3 758.11,918.5 765.11,909.7 762.71,909.9 763.11,908.9ZM799.14,908 798.64,909.2 796.74,907 795.34,920.5 803.94,910 801.04,910.2 801.54,909ZM837.36,907.9 836.76,909.1 834.96,906.7 832.56,920.5 842.16,910.3 839.16,910.3 839.76,909.1ZM875.56,907.84 874.53,909.74 872.73,907.18 869.79,921.5 880.13,911.16 877,911.07 878.02,909.16ZM913.84,907.74 911.65,911.14 910.05,908.45 906.02,922.5 917.12,912.99 914.01,912.66 916.19,909.26ZM952.06,907.74 949.88,911.14 948.28,908.45 944.24,922.5 955.35,912.99 952.23,912.66 954.42,909.26ZM990.27,907.78 987.75,911.98 986.07,909.33 982.47,923.5 993.27,913.66 990.15,913.42 992.67,909.22ZM1028.53,907.72 1025.52,912.24 1023.96,909.52 1019.69,923.5 1030.95,914.18 1027.85,913.79 1030.86,909.28ZM1066.73,907.76 1063.41,913.07 1061.78,910.4 1057.92,924.5 1068.9,914.85 1065.78,914.56 1069.11,909.24ZM1105.03,907.66 1100.59,913.58 1099.19,910.78 1094.15,924.5 1105.91,915.82 1102.83,915.26 1107.27,909.34ZM1143.32,907.58 1137.61,914.1 1136.43,911.2 1130.37,924.5 1142.75,916.73 1139.72,915.94 1145.42,909.42ZM1181.58,907.54 1174.21,915.37 1173.13,912.43 1166.6,925.5 1179.25,918.18 1176.25,917.28 1183.62,909.46ZM1219.83,907.51 1209.74,917.6 1208.75,914.63 1201.82,927.5 1214.69,920.57 1211.72,919.58 1221.81,909.49ZM1258.06,907.51 1247.97,917.6 1246.98,914.63 1240.05,927.5 1252.92,920.57 1249.95,919.58 1260.04,909.49ZM1296.31,907.48 1286.46,916.82 1285.55,913.82 1278.27,926.5 1291.33,919.92 1288.38,918.85 1298.24,909.52ZM187.88,946.83 187.21,947.68 186.18,945.49 182.03,956 191.28,949.51 188.91,949.02 189.58,948.17ZM226.4,946.9 225.8,947.45 225.3,945.7 220.95,953 228.6,949.3 226.9,948.65 227.5,948.1ZM264.93,946.98 264.41,947.23 264.43,945.94 259.98,950 265.93,949.06 264.91,948.27 265.43,948.02ZM303.45,947.06 303.01,947.01 303.55,946.18 299,947 303.25,948.82 302.91,947.89 303.35,947.94ZM341.73,947.04 341.27,946.94 341.93,946.12 337.03,946.5 341.33,948.88 341.07,947.86 341.53,947.96ZM380,947.08 379.58,946.93 380.3,946.24 375.65,946 379.4,948.76 379.28,947.77 379.7,947.92ZM418.23,947.06 417.79,946.91 418.53,946.18 413.68,946 417.63,948.82 417.49,947.79 417.93,947.94ZM456.41,947 455.91,946.9 456.61,946 451.31,946.5 456.01,949 455.71,947.9 456.21,948ZM494.63,947 494.13,946.9 494.83,946 489.53,946.5 494.23,949 493.93,947.9 494.43,948ZM532.91,946.92 532.33,946.77 533.21,945.76 526.96,946 532.31,949.24 532.03,947.93 532.61,948.08ZM571.03,946.9 570.43,946.85 571.13,945.7 564.98,947 570.83,949.3 570.33,948.05 570.93,948.1ZM609.06,946.88 608.44,947.03 608.76,945.64 603.01,949 609.66,949.36 608.74,948.27 609.36,948.12ZM647.19,946.96 646.65,947.21 646.69,945.88 642.04,950 648.19,949.12 647.15,948.29 647.69,948.04ZM685.26,947.04 684.8,947.44 684.46,946.12 681.06,951.5 686.86,948.88 685.6,948.36 686.06,947.96ZM723.34,947.1 722.94,947.65 722.24,946.3 719.89,953 725.54,948.7 724.04,948.45 724.44,947.9ZM761.31,947.2 761.01,948 759.71,946.6 759.11,955.5 764.51,948.4 762.61,948.6 762.91,947.8ZM799.34,947.2 799.04,948.2 797.34,946.6 797.34,957.5 803.34,948.4 801.04,948.8 801.34,947.8ZM837.46,947.1 837.06,948.2 835.26,946.3 834.56,958.5 841.86,948.7 839.26,949 839.66,947.9ZM875.69,947.1 875.29,948.2 873.49,946.3 872.79,958.5 880.09,948.7 877.49,949 877.89,947.9ZM913.82,947 913.32,948.2 911.42,946 910.02,959.5 918.62,949 915.72,949.2 916.22,948ZM951.94,947 951.44,948.3 949.34,946 948.24,960.5 957.14,949 954.04,949.3 954.54,948ZM990.2,946.91 989.48,948.47 987.52,946.03 985.47,960.5 995.15,949.55 992.02,949.65 992.74,948.09ZM1028.46,946.84 1027.43,948.74 1025.63,946.18 1022.69,960.5 1033.03,950.16 1029.9,950.07 1030.93,948.16ZM1066.7,946.81 1064.96,949.87 1063.22,947.26 1059.92,961.5 1070.51,951.43 1067.39,951.25 1069.13,948.19ZM1104.94,946.78 1102.43,950.98 1100.75,948.33 1097.15,962.5 1107.95,952.66 1104.83,952.42 1107.35,948.22ZM1143.22,946.71 1139.36,952.32 1137.84,949.58 1133.37,963.5 1144.76,954.34 1141.66,953.91 1145.52,948.29ZM1181.48,946.65 1176.14,953.64 1174.76,950.83 1169.6,964.5 1181.44,955.93 1178.36,955.34 1183.71,948.35ZM1219.77,946.57 1213.11,954.13 1211.94,951.22 1205.82,964.5 1218.23,956.78 1215.21,955.98 1221.87,948.43ZM1258,946.57 1251.34,954.13 1250.16,951.22 1244.05,964.5 1256.46,956.78 1253.43,955.98 1260.1,948.43ZM1296.25,946.54 1289.87,953.35 1288.79,950.41 1282.27,963.5 1294.91,956.16 1291.91,955.27 1298.3,948.46ZM188.23,986.15 187.88,986.65 187.23,985.45 185.23,991.5 190.23,987.55 188.88,987.35 189.23,986.85ZM226.65,986.2 226.35,986.5 226.05,985.6 223.95,989.5 227.85,987.4 226.95,987.1 227.25,986.8ZM265.08,986.2 264.78,986.3 264.88,985.6 262.18,987.5 265.48,987.4 264.98,986.9 265.28,986.8ZM303.5,986.2 303.2,986.1 303.7,985.6 300.4,985.5 303.1,987.4 303,986.7 303.3,986.8ZM341.75,986.2 341.45,986.08 342,985.6 338.63,985.25 341.25,987.4 341.2,986.67 341.5,986.8ZM380,986.2 379.7,986.05 380.3,985.6 376.85,985 379.4,987.4 379.4,986.65 379.7,986.8ZM418.23,986.18 417.91,986.03 418.53,985.54 414.88,985 417.63,987.46 417.61,986.67 417.93,986.82ZM457.71,986.5 457.01,987.71 455.61,987.71 454.91,986.5 455.61,985.29 457.01,985.29ZM495.93,986.5 495.23,987.71 493.83,987.71 493.13,986.5 493.83,985.29 495.23,985.29ZM534.16,986.5 533.46,987.71 532.06,987.71 531.36,986.5 532.06,985.29 533.46,985.29ZM572.38,986.5 571.68,987.71 570.28,987.71 569.58,986.5 570.28,985.29 571.68,985.29ZM609.11,986.1 608.71,986.2 608.91,985.3 605.21,987.5 609.51,987.7 608.91,987 609.31,986.9ZM647.24,986.16 646.9,986.36 646.84,985.48 644.04,988.5 648.04,987.52 647.3,987.04 647.64,986.84ZM685.41,986.24 685.15,986.49 684.91,985.72 683.06,989 686.41,987.28 685.65,987.01 685.91,986.76ZM723.44,986.2 723.14,986.65 722.54,985.6 720.89,991 725.24,987.4 724.04,987.25 724.34,986.8ZM761.41,986.3 761.21,987 760.01,985.9 760.11,993.5 764.21,987.1 762.61,987.4 762.81,986.7ZM799.54,986.3 799.34,987.1 797.94,985.9 798.34,994.5 802.74,987.1 800.94,987.5 801.14,986.7ZM837.76,986.3 837.56,987.1 836.16,985.9 836.56,994.5 840.96,987.1 839.16,987.5 839.36,986.7ZM875.89,986.4 875.79,987.3 874.09,986.2 875.79,995.5 879.49,986.8 877.59,987.5 877.69,986.6ZM914.22,986.3 914.02,987.1 912.62,985.9 913.02,994.5 917.42,987.1 915.62,987.5 915.82,986.7ZM952.44,986.2 952.14,987 950.84,985.6 950.24,994.5 955.64,987.4 953.74,987.6 954.04,986.8ZM990.67,986.2 990.37,987 989.07,985.6 988.47,994.5 993.87,987.4 991.97,987.6 992.27,986.8ZM1028.79,986.2 1028.49,987.1 1026.99,985.6 1026.69,995.5 1032.39,987.4 1030.29,987.7 1030.59,986.8ZM1066.92,986 1066.42,987 1064.92,985 1062.92,996.5 1070.92,988 1068.42,988 1068.92,987ZM1105.05,985.9 1104.45,987 1102.85,984.7 1100.15,997.5 1109.45,988.3 1106.65,988.2 1107.25,987.1ZM1143.19,985.74 1141.01,989.14 1139.41,986.45 1135.37,1000.5 1146.47,990.99 1143.36,990.66 1145.55,987.26ZM1181.47,985.67 1177.92,990.51 1176.49,987.73 1171.6,1001.5 1183.26,992.69 1180.18,992.17 1183.73,987.33ZM1219.76,985.58 1215.02,991.06 1213.82,988.17 1207.82,1001.5 1220.17,993.67 1217.13,992.9 1221.88,987.42ZM1258.06,985.51 1252.97,990.6 1251.98,987.63 1245.05,1000.5 1257.92,993.57 1254.95,992.58 1260.04,987.49ZM1296.32,985.47 1291.55,989.9 1290.68,986.9 1283.27,999.5 1296.39,993.05 1293.46,991.95 1298.23,987.53ZM188.63,1025.2 188.33,1025.3 188.43,1024.6 185.73,1026.5 189.03,1026.4 188.53,1025.9 188.83,1025.8ZM227,1025.2 226.7,1025.15 227.1,1024.6 223.95,1025 226.8,1026.4 226.6,1025.75 226.9,1025.8ZM265.38,1025.2 265.08,1025 265.78,1024.6 262.18,1023.5 264.58,1026.4 264.68,1025.6 264.98,1025.8ZM303.6,1025.2 303.3,1025 304,1024.6 300.4,1023.5 302.8,1026.4 302.9,1025.6 303.2,1025.8ZM341.83,1025.2 341.53,1025 342.23,1024.6 338.63,1023.5 341.03,1026.4 341.13,1025.6 341.43,1025.8ZM380.03,1025.25 379.78,1025.08 380.38,1024.75 377.35,1023.75 379.33,1026.25 379.43,1025.58 379.68,1025.75ZM419.48,1025.5 418.78,1026.71 417.38,1026.71 416.68,1025.5 417.38,1024.29 418.78,1024.29ZM457.71,1025.5 457.01,1026.71 455.61,1026.71 454.91,1025.5 455.61,1024.29 457.01,1024.29ZM495.93,1025.5 495.23,1026.71 493.83,1026.71 493.13,1025.5 493.83,1024.29 495.23,1024.29ZM534.16,1025.5 533.46,1026.71 532.06,1026.71 531.36,1025.5 532.06,1024.29 533.46,1024.29ZM572.38,1025.5 571.68,1026.71 570.28,1026.71 569.58,1025.5 570.28,1024.29 571.68,1024.29ZM610.61,1025.5 609.91,1026.71 608.51,1026.71 607.81,1025.5 608.51,1024.29 609.91,1024.29ZM648.84,1025.5 648.14,1026.71 646.74,1026.71 646.04,1025.5 646.74,1024.29 648.14,1024.29ZM687.06,1025.5 686.36,1026.71 684.96,1026.71 684.26,1025.5 684.96,1024.29 686.36,1024.29ZM723.54,1025.4 723.44,1025.75 722.84,1025.2 722.89,1029 724.94,1025.8 724.14,1025.95 724.24,1025.6ZM761.41,1025.5 761.41,1026.2 760.01,1025.5 762.11,1032.5 764.21,1025.5 762.81,1026.2 762.81,1025.5ZM799.54,1025.5 799.54,1026.3 797.94,1025.5 800.34,1033.5 802.74,1025.5 801.14,1026.3 801.14,1025.5ZM837.66,1025.5 837.66,1026.4 835.86,1025.5 838.56,1034.5 841.26,1025.5 839.46,1026.4 839.46,1025.5ZM875.79,1025.5 875.79,1026.5 873.79,1025.5 876.79,1035.5 879.79,1025.5 877.79,1026.5 877.79,1025.5ZM914.02,1025.4 913.92,1026.4 912.02,1025.2 914.02,1035.5 918.02,1025.8 915.92,1026.6 916.02,1025.6ZM952.14,1025.4 952.04,1026.5 949.94,1025.2 952.24,1036.5 956.54,1025.8 954.24,1026.7 954.34,1025.6ZM990.37,1025.4 990.27,1026.5 988.17,1025.2 990.47,1036.5 994.77,1025.8 992.47,1026.7 992.57,1025.6ZM1028.49,1025.2 1028.19,1026.4 1026.09,1024.6 1026.69,1037.5 1033.29,1026.4 1030.59,1027 1030.89,1025.8ZM1066.72,1025 1066.22,1026.2 1064.32,1024 1062.92,1037.5 1071.52,1027 1068.62,1027.2 1069.12,1026ZM1104.85,1024.98 1103.52,1028.28 1101.45,1025.94 1100.15,1040.5 1109.24,1029.06 1106.12,1029.32 1107.45,1026.02ZM1143.09,1024.94 1141.14,1029.4 1139.13,1026.99 1137.37,1041.5 1146.83,1030.36 1143.7,1030.52 1145.65,1026.06ZM1181.34,1024.87 1178.98,1029.6 1177.1,1027.1 1174.6,1041.5 1184.61,1030.86 1181.48,1030.86 1183.85,1026.13ZM1219.68,1024.69 1217.01,1028.43 1215.54,1025.67 1210.82,1039.5 1222.38,1030.55 1219.29,1030.06 1221.96,1026.31ZM1258.02,1024.55 1254.57,1028.29 1253.46,1025.36 1247.05,1038.5 1259.63,1031.06 1256.62,1030.19 1260.08,1026.45ZM1296.28,1024.51 1292.19,1028.6 1291.2,1025.63 1284.27,1038.5 1297.14,1031.57 1294.17,1030.58 1298.26,1026.49ZM188.83,1064.2 188.53,1064.1 189.03,1063.6 185.73,1063.5 188.43,1065.4 188.33,1064.7 188.63,1064.8ZM227.15,1064.15 226.8,1063.95 227.55,1063.45 223.45,1062.5 226.35,1065.55 226.4,1064.65 226.75,1064.85ZM265.48,1064.1 265.08,1063.8 266.08,1063.3 261.18,1061.5 264.28,1065.7 264.48,1064.6 264.88,1064.9ZM303.7,1064.1 303.3,1063.8 304.3,1063.3 299.4,1061.5 302.5,1065.7 302.7,1064.6 303.1,1064.9ZM341.93,1064.1 341.53,1063.8 342.53,1063.3 337.63,1061.5 340.73,1065.7 340.93,1064.6 341.33,1064.9ZM380.13,1064.15 379.78,1063.88 380.68,1063.45 376.35,1061.75 379.03,1065.55 379.23,1064.57 379.58,1064.85ZM418.33,1064.2 418.03,1063.95 418.83,1063.6 415.08,1062 417.33,1065.4 417.53,1064.55 417.83,1064.8ZM456.51,1064.27 456.28,1064.07 456.92,1063.81 454.01,1062.45 455.69,1065.19 455.87,1064.53 456.1,1064.73ZM495.93,1064.5 495.23,1065.71 493.83,1065.71 493.13,1064.5 493.83,1063.29 495.23,1063.29ZM534.16,1064.5 533.46,1065.71 532.06,1065.71 531.36,1064.5 532.06,1063.29 533.46,1063.29ZM572.38,1064.5 571.68,1065.71 570.28,1065.71 569.58,1064.5 570.28,1063.29 571.68,1063.29ZM610.61,1064.5 609.91,1065.71 608.51,1065.71 607.81,1064.5 608.51,1063.29 609.91,1063.29ZM648.84,1064.5 648.14,1065.71 646.74,1065.71 646.04,1064.5 646.74,1063.29 648.14,1063.29ZM687.06,1064.5 686.36,1065.71 684.96,1065.71 684.26,1064.5 684.96,1063.29 686.36,1063.29ZM723.59,1064.5 723.59,1064.8 722.99,1064.5 723.89,1067.5 724.79,1064.5 724.19,1064.8 724.19,1064.5ZM761.61,1064.5 761.61,1065 760.61,1064.5 762.11,1069.5 763.61,1064.5 762.61,1065 762.61,1064.5ZM799.64,1064.5 799.64,1065.2 798.24,1064.5 800.34,1071.5 802.44,1064.5 801.04,1065.2 801.04,1064.5ZM837.76,1064.6 837.86,1065.4 836.16,1064.8 839.56,1072.5 840.96,1064.2 839.46,1065.2 839.36,1064.4ZM875.79,1064.6 875.89,1065.6 873.79,1064.8 877.79,1074.5 879.79,1064.2 877.89,1065.4 877.79,1064.4ZM914.12,1064.5 914.12,1065.4 912.32,1064.5 915.02,1073.5 917.72,1064.5 915.92,1065.4 915.92,1064.5ZM952.34,1064.5 952.34,1065.4 950.54,1064.5 953.24,1073.5 955.94,1064.5 954.14,1065.4 954.14,1064.5ZM990.47,1064.5 990.47,1065.5 988.47,1064.5 991.47,1074.5 994.47,1064.5 992.47,1065.5 992.47,1064.5ZM1028.59,1064.4 1028.49,1065.5 1026.39,1064.2 1028.69,1075.5 1032.99,1064.8 1030.69,1065.7 1030.79,1064.6ZM1066.62,1064.1 1066.22,1065.4 1064.02,1063.3 1063.92,1077.5 1071.82,1065.7 1068.82,1066.2 1069.22,1064.9ZM1104.86,1063.95 1103.82,1066.37 1101.8,1063.98 1100.15,1078.5 1109.52,1067.29 1106.4,1067.47 1107.43,1065.05ZM1143.1,1063.91 1141.43,1067.49 1139.49,1065.04 1137.37,1079.5 1147.1,1068.59 1143.97,1068.67 1145.64,1065.09ZM1181.36,1063.84 1179.29,1067.72 1177.48,1065.17 1174.6,1079.5 1184.89,1069.12 1181.76,1069.04 1183.83,1065.16ZM1219.66,1063.72 1216.65,1068.24 1215.09,1065.52 1210.82,1079.5 1222.08,1070.18 1218.98,1069.79 1221.99,1065.28ZM1257.94,1063.65 1255.62,1066.66 1254.26,1063.84 1249.05,1077.5 1260.91,1068.96 1257.84,1068.37 1260.16,1065.35ZM1296.25,1063.55 1292.79,1067.29 1291.68,1064.36 1285.27,1077.5 1297.86,1070.06 1294.85,1069.19 1298.3,1065.45ZM188.93,1103.2 188.63,1103 189.33,1102.6 185.73,1101.5 188.13,1104.4 188.23,1103.6 188.53,1103.8ZM227.2,1103.15 226.85,1102.9 227.7,1102.45 223.45,1101 226.2,1104.55 226.35,1103.6 226.7,1103.85ZM265.48,1103.1 265.08,1102.8 266.08,1102.3 261.18,1100.5 264.28,1104.7 264.48,1103.6 264.88,1103.9ZM303.7,1103.1 303.3,1102.8 304.3,1102.3 299.4,1100.5 302.5,1104.7 302.7,1103.6 303.1,1103.9ZM341.93,1103.1 341.53,1102.8 342.53,1102.3 337.63,1100.5 340.73,1104.7 340.93,1103.6 341.33,1103.9ZM380.13,1103.15 379.78,1102.88 380.68,1102.45 376.35,1100.75 379.03,1104.55 379.23,1103.57 379.58,1103.85ZM418.33,1103.2 418.03,1102.95 418.83,1102.6 415.08,1101 417.33,1104.4 417.53,1103.55 417.83,1103.8ZM456.53,1103.25 456.28,1103.03 456.98,1102.75 453.81,1101.25 455.63,1104.25 455.83,1103.53 456.08,1103.75ZM494.73,1103.3 494.53,1103.1 495.13,1102.9 492.53,1101.5 493.93,1104.1 494.13,1103.5 494.33,1103.7ZM532.96,1103.3 532.76,1103.1 533.36,1102.9 530.76,1101.5 532.16,1104.1 532.36,1103.5 532.56,1103.7ZM572.38,1103.5 571.68,1104.71 570.28,1104.71 569.58,1103.5 570.28,1102.29 571.68,1102.29ZM610.61,1103.5 609.91,1104.71 608.51,1104.71 607.81,1103.5 608.51,1102.29 609.91,1102.29ZM648.84,1103.5 648.14,1104.71 646.74,1104.71 646.04,1103.5 646.74,1102.29 648.14,1102.29ZM687.06,1103.5 686.36,1104.71 684.96,1104.71 684.26,1103.5 684.96,1102.29 686.36,1102.29ZM725.29,1103.5 724.59,1104.71 723.19,1104.71 722.49,1103.5 723.19,1102.29 724.59,1102.29ZM761.81,1103.6 761.91,1103.9 761.21,1103.8 763.11,1106.5 763.01,1103.2 762.51,1103.7 762.41,1103.4ZM799.74,1103.6 799.84,1104.2 798.54,1103.8 801.34,1109.5 802.14,1103.2 801.04,1104 800.94,1103.4ZM837.76,1103.6 837.86,1104.4 836.16,1103.8 839.56,1111.5 840.96,1103.2 839.46,1104.2 839.36,1103.4ZM875.89,1103.6 875.99,1104.5 874.09,1103.8 877.79,1112.5 879.49,1103.2 877.79,1104.3 877.69,1103.4ZM914.12,1103.5 914.12,1104.4 912.32,1103.5 915.02,1112.5 917.72,1103.5 915.92,1104.4 915.92,1103.5ZM952.24,1103.5 952.24,1104.5 950.24,1103.5 953.24,1113.5 956.24,1103.5 954.24,1104.5 954.24,1103.5ZM990.47,1103.5 990.47,1104.5 988.47,1103.5 991.47,1113.5 994.47,1103.5 992.47,1104.5 992.47,1103.5ZM1028.49,1103.4 1028.39,1104.6 1026.09,1103.2 1028.69,1115.5 1033.29,1103.8 1030.79,1104.8 1030.89,1103.6ZM1066.57,1103.12 1066.03,1105 1063.73,1102.88 1063.92,1117.5 1071.8,1105.19 1068.73,1105.77 1069.27,1103.88ZM1104.83,1103.03 1104.06,1105.16 1101.9,1102.9 1101.15,1117.5 1109.81,1105.73 1106.7,1106.1 1107.46,1103.97ZM1143.12,1102.87 1141.75,1105.6 1139.88,1103.1 1137.37,1117.5 1147.39,1106.86 1144.26,1106.86 1145.62,1104.13ZM1181.42,1102.74 1179.23,1106.14 1177.63,1103.45 1173.6,1117.5 1184.7,1107.99 1181.59,1107.66 1183.77,1104.26ZM1219.71,1102.65 1217.4,1105.66 1216.03,1102.84 1210.82,1116.5 1222.69,1107.96 1219.61,1107.37 1221.93,1104.35ZM1257.97,1102.6 1256.04,1104.92 1254.78,1102.06 1249.05,1115.5 1261.24,1107.43 1258.19,1106.72 1260.12,1104.4ZM1296.24,1102.55 1293.76,1105.27 1292.64,1102.34 1286.27,1115.5 1298.83,1108.02 1295.82,1107.16 1298.31,1104.45ZM188.93,1142.2 188.63,1142 189.33,1141.6 185.73,1140.5 188.13,1143.4 188.23,1142.6 188.53,1142.8ZM227.18,1142.17 226.85,1141.95 227.63,1141.53 223.7,1140.25 226.28,1143.47 226.4,1142.6 226.73,1142.83ZM265.43,1142.15 265.08,1141.9 265.93,1141.45 261.68,1140 264.43,1143.55 264.58,1142.6 264.93,1142.85ZM303.68,1142.12 303.3,1141.85 304.23,1141.38 299.65,1139.75 302.58,1143.62 302.75,1142.6 303.13,1142.88ZM341.93,1142.1 341.53,1141.8 342.53,1141.3 337.63,1139.5 340.73,1143.7 340.93,1142.6 341.33,1142.9ZM380.13,1142.15 379.78,1141.88 380.68,1141.45 376.35,1139.75 379.03,1143.55 379.23,1142.57 379.58,1142.85ZM418.33,1142.2 418.03,1141.95 418.83,1141.6 415.08,1140 417.33,1143.4 417.53,1142.55 417.83,1142.8ZM456.53,1142.25 456.28,1142.03 456.98,1141.75 453.81,1140.25 455.63,1143.25 455.83,1142.53 456.08,1142.75ZM494.73,1142.3 494.53,1142.1 495.13,1141.9 492.53,1140.5 493.93,1143.1 494.13,1142.5 494.33,1142.7ZM534.16,1142.5 533.46,1143.71 532.06,1143.71 531.36,1142.5 532.06,1141.29 533.46,1141.29ZM572.38,1142.5 571.68,1143.71 570.28,1143.71 569.58,1142.5 570.28,1141.29 571.68,1141.29ZM610.61,1142.5 609.91,1143.71 608.51,1143.71 607.81,1142.5 608.51,1141.29 609.91,1141.29ZM648.84,1142.5 648.14,1143.71 646.74,1143.71 646.04,1142.5 646.74,1141.29 648.14,1141.29ZM687.06,1142.5 686.36,1143.71 684.96,1143.71 684.26,1142.5 684.96,1141.29 686.36,1141.29ZM725.29,1142.5 724.59,1143.71 723.19,1143.71 722.49,1142.5 723.19,1141.29 724.59,1141.29ZM761.66,1142.55 761.71,1143 760.76,1142.65 762.61,1147 763.46,1142.35 762.61,1142.9 762.56,1142.45ZM799.71,1142.58 799.79,1143.2 798.46,1142.72 801.09,1148.75 802.21,1142.28 801.04,1143.05 800.96,1142.42ZM837.76,1142.6 837.86,1143.4 836.16,1142.8 839.56,1150.5 840.96,1142.2 839.46,1143.2 839.36,1142.4ZM875.94,1142.58 876.02,1143.42 874.24,1142.72 877.54,1151 879.34,1142.28 877.72,1143.27 877.64,1142.42ZM914.12,1142.55 914.17,1143.45 912.32,1142.65 915.52,1151.5 917.72,1142.35 915.97,1143.35 915.92,1142.45ZM952.29,1142.53 952.32,1143.48 950.39,1142.58 953.49,1152 956.09,1142.42 954.22,1143.42 954.19,1142.47ZM990.47,1142.5 990.47,1143.5 988.47,1142.5 991.47,1152.5 994.47,1142.5 992.47,1143.5 992.47,1142.5ZM1028.59,1142.33 1028.42,1143.42 1026.39,1141.97 1027.94,1153.5 1032.99,1143.03 1030.62,1143.77 1030.79,1142.67ZM1066.72,1142.15 1066.37,1143.35 1064.32,1141.45 1064.42,1154.5 1071.52,1143.55 1068.77,1144.05 1069.12,1142.85ZM1104.85,1141.98 1104.32,1143.29 1102.24,1140.95 1100.9,1155.5 1110.03,1144.09 1106.91,1144.34 1107.44,1143.02ZM1143.12,1141.87 1141.75,1144.6 1139.88,1142.1 1137.37,1156.5 1147.39,1145.86 1144.26,1145.86 1145.62,1143.13ZM1181.39,1141.79 1179.82,1144.45 1178.12,1141.81 1174.6,1156 1185.35,1146.1 1182.22,1145.87 1183.8,1143.21ZM1219.67,1141.7 1217.84,1144.34 1216.34,1141.6 1211.82,1155.5 1223.24,1146.38 1220.15,1145.94 1221.97,1143.3ZM1257.96,1141.63 1255.83,1144.29 1254.51,1141.44 1249.05,1155 1261.07,1146.69 1258.01,1146.04 1260.14,1143.37ZM1296.24,1141.55 1293.76,1144.27 1292.64,1141.34 1286.27,1154.5 1298.83,1147.02 1295.82,1146.16 1298.31,1143.45Z"/></g>
<g clip-path="url(#ca)">
<path d="M741,768.1 743.33,775.29 750.89,775.29 744.78,779.73 747.11,786.91 741,782.47 734.89,786.91 737.22,779.73 731.11,775.29 738.67,775.29Z" fill="#f0f" stroke="#f0f" stroke-width="4.17" stroke-linejoin="bevel"/>
<polyline points="742,777 760,765.5 790,750.5 833,733.5 893,711 943,691.5 1000,672 1040,662 1086,651 1133,638 1186,618.5 1217,604 1258,590 1297,577 1336,564" fill="none" stroke="#00f" stroke-width="6.25" stroke-linejoin="round" stroke-linecap="square"/>
<polyline points="742,777 730,786 710,800 690,820 670,838 650,856 638,866 624,876 596,886 580,892 556,897 532,900 498,898" fill="none" stroke="#f00" stroke-width="6.25" stroke-linejoin="round" stroke-linecap="square"/>
</g>
<path d="M298.5,401.5V1142.5M447.5,401.5V1142.5M595.5,401.5V1142.5M743.5,401.5V1142.5M891.5,401.5V1142.5M1039.5,401.5V1142.5M1187.5,401.5V1142.5M150.5,438.5H1335.5M150.5,549.5H1335.5M150.5,660.5H1335.5M150.5,771.5H1335.5M150.5,882.5H1335.5M150.5,994.5H1335.5M150.5,1105.5H1335.5" stroke="#b0b0b0" stroke-width="3.0" fill="none"/>
<text x="748.7" y="778.4" font-size="33.33" style="fill:#0f0" opacity="0.999">POI</text>
<rect x="163" y="976" width="315" height="152.7" rx="5.2" ry="5.2" fill="#fff" fill-opacity="0.8" stroke="#ccc" stroke-opacity="0.8" stroke-width="4.17"/>
<line x1="171" x2="225" y1="995.85" y2="995.85" stroke="#000" stroke-width="4.17"/>
<path d="M185.5,983.35 L210.5,995.85 L185.5,1008.35Z" fill="#000" stroke="#000" stroke-width="4.17" stroke-linejoin="miter" stroke-miterlimit="10"/>
<line x1="171" x2="225" y1="1032.2" y2="1032.2" stroke="#00f" stroke-width="4.17"/>
<line x1="171" x2="225" y1="1068.7" y2="1068.7" stroke="#f00" stroke-width="4.17"/>
<line x1="171" x2="225" y1="1105.1" y2="1105.1" stroke="#f0f" stroke-width="4.17"/>
<path d="M198,1092.6 200.81,1101.24 209.89,1101.24 202.54,1106.58 205.35,1115.21 198,1109.87 190.65,1115.21 193.46,1106.58 186.11,1101.24 195.19,1101.24Z" fill="#f0f" stroke="#f0f" stroke-width="4.17" stroke-linejoin="bevel"/>
<text x="242.2" y="1004.6" font-size="25" opacity="0.999">10 m wind</text>
<text x="242.2" y="1040.4" font-size="25" opacity="0.999">back trajectory</text>
<text x="242.2" y="1077.2" font-size="25" opacity="0.999">forward trajectory</text>
<text x="242.2" y="1113.7" font-size="25" opacity="0.999">POI</text>
<path d="M1331,651.2h3.5v3.2h-3.5zM1331,666.4h3.5v3.6h-3.5z" fill="#000"/>
<rect x="150.5" y="401.5" width="1185" height="741" fill="none" stroke="#000" stroke-width="3.1"/>
<g opacity="0.999">
<text x="298.8" y="388.2" font-size="41.67" text-anchor="middle" letter-spacing="-0.3">66°W</text>
<text x="298.8" y="1177.9" font-size="41.67" text-anchor="middle" letter-spacing="-0.3">66°W</text>
<text x="447.8" y="388.2" font-size="41.67" text-anchor="middle" letter-spacing="-0.3">64°W</text>
<text x="447.8" y="1177.9" font-size="41.67" text-anchor="middle" letter-spacing="-0.3">64°W</text>
<text x="595.8" y="388.2" font-size="41.67" text-anchor="middle" letter-spacing="-0.3">62°W</text>
<text x="595.8" y="1177.9" font-size="41.67" text-anchor="middle" letter-spacing="-0.3">62°W</text>
<text x="743.8" y="388.2" font-size="41.67" text-anchor="middle" letter-spacing="-0.3">60°W</text>
<text x="743.8" y="1177.9" font-size="41.67" text-anchor="middle" letter-spacing="-0.3">60°W</text>
<text x="891.8" y="388.2" font-size="41.67" text-anchor="middle" letter-spacing="-0.3">58°W</text>
<text x="891.8" y="1177.9" font-size="41.67" text-anchor="middle" letter-spacing="-0.3">58°W</text>
<text x="1039.8" y="388.2" font-size="41.67" text-anchor="middle" letter-spacing="-0.3">56°W</text>
<text x="1039.8" y="1177.9" font-size="41.67" text-anchor="middle" letter-spacing="-0.3">56°W</text>
<text x="1187.8" y="388.2" font-size="41.67" text-anchor="middle" letter-spacing="-0.3">54°W</text>
<text x="1187.8" y="1177.9" font-size="41.67" text-anchor="middle" letter-spacing="-0.3">54°W</text>
<text x="144" y="449.7" font-size="41.67" text-anchor="end" letter-spacing="-0.3">1.5°N</text>
<text x="1340.2" y="449.7" font-size="41.67" text-anchor="start" letter-spacing="-0.25">1.5°N</text>
<text x="144" y="560.7" font-size="41.67" text-anchor="end" letter-spacing="-0.3">0°</text>
<text x="1340.2" y="560.7" font-size="41.67" text-anchor="start" letter-spacing="-0.25">0°</text>
<text x="144" y="671.7" font-size="41.67" text-anchor="end" letter-spacing="-0.3">1.5°S</text>
<text x="1340.2" y="671.7" font-size="41.67" text-anchor="start" letter-spacing="-0.25">1.5°S</text>
<text x="144" y="782.7" font-size="41.67" text-anchor="end" letter-spacing="-0.3">3°S</text>
<text x="1340.2" y="782.7" font-size="41.67" text-anchor="start" letter-spacing="-0.25">3°S</text>
<text x="144" y="893.7" font-size="41.67" text-anchor="end" letter-spacing="-0.3">4.5°S</text>
<text x="1340.2" y="893.7" font-size="41.67" text-anchor="start" letter-spacing="-0.25">4.5°S</text>
<text x="144" y="1004.7" font-size="41.67" text-anchor="end" letter-spacing="-0.3">6°S</text>
<text x="1340.2" y="1004.7" font-size="41.67" text-anchor="start" letter-spacing="-0.25">6°S</text>
<text x="144" y="1115.7" font-size="41.67" text-anchor="end" letter-spacing="-0.3">7.5°S</text>
<text x="1340.2" y="1115.7" font-size="41.67" text-anchor="start" letter-spacing="-0.25">7.5°S</text>
<rect x="150.5" y="1437.8" width="1222.8" height="48" fill="url(#vg)" stroke="#000" stroke-width="3.33"/>
<path d="M363.7,1485.8V1501M626,1485.8V1501M888.2,1485.8V1501M1150.5,1485.8V1501" stroke="#000" stroke-width="3.33" fill="none"/>
<text x="363.7" y="1545.1" font-size="41.67" text-anchor="middle">5</text>
<text x="626" y="1545.1" font-size="41.67" text-anchor="middle">6</text>
<text x="888.2" y="1545.1" font-size="41.67" text-anchor="middle">7</text>
<text x="1150.5" y="1545.1" font-size="41.67" text-anchor="middle">8</text>
<text x="761.6" y="1601.5" font-size="41.67" text-anchor="middle" letter-spacing="-0.2">cot_opliq</text>
</g>
</svg></body></html>
